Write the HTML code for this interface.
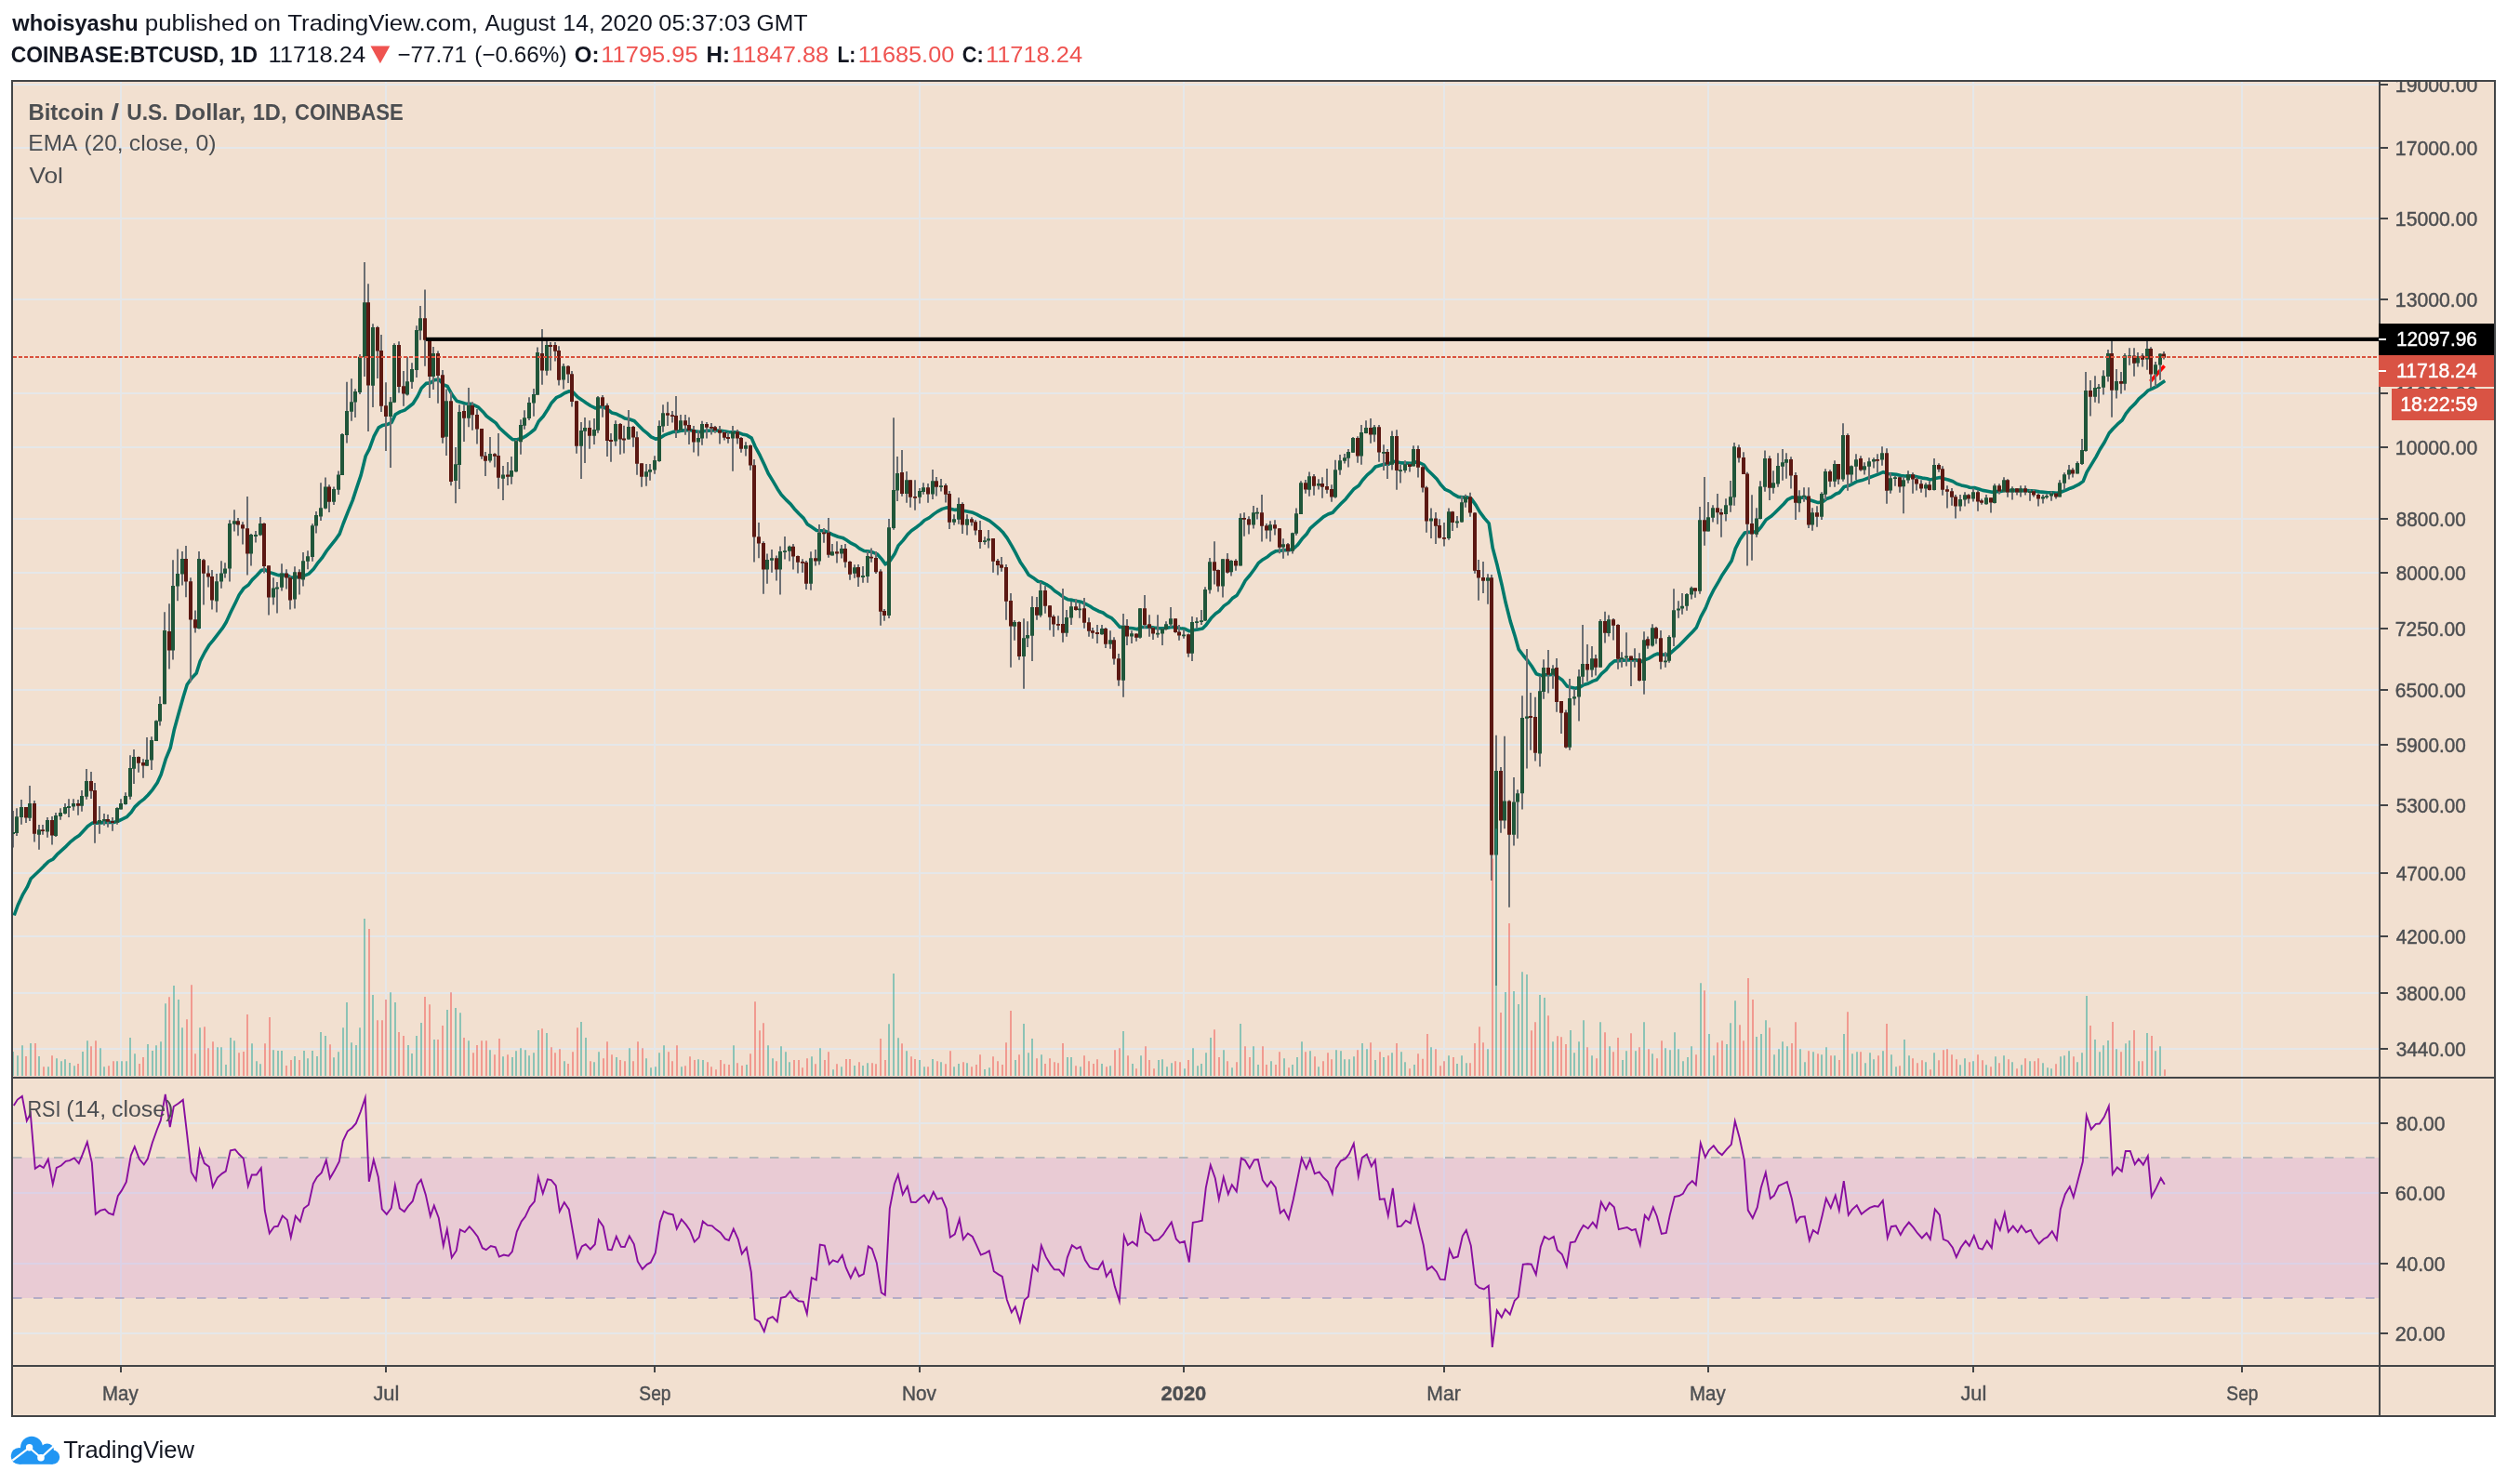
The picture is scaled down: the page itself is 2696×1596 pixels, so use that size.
<!DOCTYPE html>
<html><head><meta charset="utf-8"><title>BTCUSD chart</title>
<style>html,body{margin:0;padding:0;background:#fff;}body{width:2696px;height:1596px;position:relative;overflow:hidden;font-family:"Liberation Sans",sans-serif;}</style></head>
<body>
<svg width="2696" height="1596" viewBox="0 0 2696 1596" style="position:absolute;left:0;top:0">
<rect x="0" y="0" width="2696" height="1596" fill="#fff"/>
<rect x="13" y="87" width="2670" height="1436" fill="#f2e0d0"/>
<rect x="14" y="1245" width="2544" height="151" fill="#e9cbd4"/>
<rect x="14" y="90" width="2544" height="2" fill="#e5e7e9"/>
<rect x="14" y="158" width="2544" height="2" fill="#e5e7e9"/>
<rect x="14" y="234" width="2544" height="2" fill="#e5e7e9"/>
<rect x="14" y="321" width="2544" height="2" fill="#e5e7e9"/>
<rect x="14" y="422" width="2544" height="2" fill="#e5e7e9"/>
<rect x="14" y="480" width="2544" height="2" fill="#e5e7e9"/>
<rect x="14" y="557" width="2544" height="2" fill="#e5e7e9"/>
<rect x="14" y="615" width="2544" height="2" fill="#e5e7e9"/>
<rect x="14" y="675" width="2544" height="2" fill="#e5e7e9"/>
<rect x="14" y="741" width="2544" height="2" fill="#e5e7e9"/>
<rect x="14" y="800" width="2544" height="2" fill="#e5e7e9"/>
<rect x="14" y="865" width="2544" height="2" fill="#e5e7e9"/>
<rect x="14" y="938" width="2544" height="2" fill="#e5e7e9"/>
<rect x="14" y="1006" width="2544" height="2" fill="#e5e7e9"/>
<rect x="14" y="1067" width="2544" height="2" fill="#e5e7e9"/>
<rect x="14" y="1127" width="2544" height="2" fill="#e5e7e9"/>
<rect x="14" y="1207" width="2544" height="2" fill="#e5e7e9"/>
<rect x="14" y="1282" width="2544" height="2" fill="#dcd1e6"/>
<rect x="14" y="1358" width="2544" height="2" fill="#dcd1e6"/>
<rect x="14" y="1433" width="2544" height="2" fill="#e5e7e9"/>
<rect x="129" y="88" width="2" height="1070" fill="#e5e7e9"/>
<rect x="129" y="1160" width="2" height="308" fill="#e5e7e9"/>
<rect x="129" y="1246" width="2" height="150" fill="#dcd1e6"/>
<rect x="414" y="88" width="2" height="1070" fill="#e5e7e9"/>
<rect x="414" y="1160" width="2" height="308" fill="#e5e7e9"/>
<rect x="414" y="1246" width="2" height="150" fill="#dcd1e6"/>
<rect x="703" y="88" width="2" height="1070" fill="#e5e7e9"/>
<rect x="703" y="1160" width="2" height="308" fill="#e5e7e9"/>
<rect x="703" y="1246" width="2" height="150" fill="#dcd1e6"/>
<rect x="988" y="88" width="2" height="1070" fill="#e5e7e9"/>
<rect x="988" y="1160" width="2" height="308" fill="#e5e7e9"/>
<rect x="988" y="1246" width="2" height="150" fill="#dcd1e6"/>
<rect x="1272" y="88" width="2" height="1070" fill="#e5e7e9"/>
<rect x="1272" y="1160" width="2" height="308" fill="#e5e7e9"/>
<rect x="1272" y="1246" width="2" height="150" fill="#dcd1e6"/>
<rect x="1552" y="88" width="2" height="1070" fill="#e5e7e9"/>
<rect x="1552" y="1160" width="2" height="308" fill="#e5e7e9"/>
<rect x="1552" y="1246" width="2" height="150" fill="#dcd1e6"/>
<rect x="1836" y="88" width="2" height="1070" fill="#e5e7e9"/>
<rect x="1836" y="1160" width="2" height="308" fill="#e5e7e9"/>
<rect x="1836" y="1246" width="2" height="150" fill="#dcd1e6"/>
<rect x="2121" y="88" width="2" height="1070" fill="#e5e7e9"/>
<rect x="2121" y="1160" width="2" height="308" fill="#e5e7e9"/>
<rect x="2121" y="1246" width="2" height="150" fill="#dcd1e6"/>
<rect x="2410" y="88" width="2" height="1070" fill="#e5e7e9"/>
<rect x="2410" y="1160" width="2" height="308" fill="#e5e7e9"/>
<rect x="2410" y="1246" width="2" height="150" fill="#dcd1e6"/>
<line x1="14" y1="1245" x2="2558" y2="1245" stroke="#b4b8b8" stroke-width="2" stroke-dasharray="9.5 12.5"/>
<line x1="14" y1="1396" x2="2558" y2="1396" stroke="#b5acc6" stroke-width="2" stroke-dasharray="9.5 12.5"/>
<line x1="2312.4" y1="410.3" x2="2327.6" y2="393.5" stroke="#ff0000" stroke-width="3.6"/>
<polyline points="15.2,984.5 19.2,973.5 24.2,962.7 29.2,954.2 33.2,945.0 38.2,940.3 43.2,935.5 47.2,931.4 52.2,926.5 57.2,923.8 61.2,919.2 66.2,914.7 71.2,910.1 75.2,905.9 80.2,901.8 85.2,898.4 89.2,894.2 94.2,888.8 99.2,885.1 103.2,885.1 108.2,884.9 113.2,884.5 117.2,884.4 122.2,884.5 127.2,883.0 131.2,881.1 136.2,878.7 141.2,873.5 145.2,867.6 150.2,862.9 155.2,859.1 159.2,855.0 164.2,849.1 169.2,841.7 173.2,833.1 178.2,816.4 183.2,804.3 187.2,785.3 192.2,767.1 197.2,749.2 201.2,736.3 206.2,729.3 211.2,724.0 215.2,711.1 220.2,701.5 225.2,693.3 229.2,688.6 234.2,682.2 239.2,675.7 243.2,669.2 248.2,658.3 253.2,648.2 257.2,639.7 262.2,632.6 267.2,629.0 271.2,623.6 276.2,618.8 281.2,613.3 285.2,612.9 290.2,615.6 295.2,617.2 299.2,618.6 304.2,618.4 309.2,618.7 313.2,621.2 318.2,620.6 323.2,620.8 327.2,619.1 332.2,617.1 337.2,612.0 341.2,606.2 346.2,600.2 351.2,592.5 355.2,587.3 360.2,581.2 365.2,574.1 369.2,563.0 374.2,550.4 379.2,538.1 383.2,525.9 388.2,510.9 393.2,490.5 397.2,482.9 402.2,469.1 407.2,459.8 411.2,457.6 416.2,456.6 421.2,454.3 425.2,445.8 430.2,442.9 435.2,441.1 439.2,438.0 444.2,434.0 449.2,426.0 453.2,417.6 458.2,412.4 463.2,411.7 467.2,408.6 472.2,408.2 477.2,413.9 481.2,415.5 486.2,424.5 491.2,431.3 495.2,432.4 500.2,434.0 505.2,434.2 509.2,435.4 514.2,437.8 519.2,442.7 523.2,447.5 528.2,451.2 533.2,454.9 537.2,460.3 542.2,464.9 547.2,469.3 551.2,472.7 556.2,472.8 561.2,471.3 565.2,469.2 570.2,465.6 575.2,461.5 579.2,453.2 584.2,447.8 589.2,440.0 593.2,433.2 598.2,427.7 602.2,425.9 607.2,422.7 612.2,420.8 616.2,421.8 621.2,427.1 626.2,430.4 630.2,433.2 635.2,436.5 640.2,438.9 644.2,437.8 649.2,437.7 654.2,441.0 658.2,444.1 663.2,445.3 668.2,447.8 672.2,450.1 677.2,451.0 682.2,452.8 686.2,457.0 691.2,462.1 696.2,466.2 700.2,469.8 705.2,472.2 710.2,470.8 714.2,468.2 719.2,466.2 724.2,464.4 728.2,464.2 733.2,463.1 738.2,462.5 742.2,462.6 747.2,463.8 752.2,464.5 756.2,463.7 761.2,463.3 766.2,463.0 770.2,463.0 775.2,463.3 780.2,464.0 784.2,464.7 789.2,464.7 794.2,465.3 798.2,466.9 803.2,468.1 808.2,471.1 812.2,480.5 817.2,489.7 822.2,500.3 826.2,509.3 831.2,517.4 836.2,525.9 840.2,532.0 845.2,537.4 850.2,542.1 854.2,547.2 859.2,552.5 864.2,557.4 868.2,563.7 873.2,567.1 878.2,570.5 882.2,570.7 887.2,571.0 892.2,573.4 896.2,575.3 901.2,577.2 906.2,578.4 910.2,580.8 915.2,584.2 920.2,586.7 924.2,589.8 929.2,592.5 934.2,593.1 938.2,593.8 943.2,595.8 948.2,601.4 952.2,606.9 957.2,603.0 962.2,595.4 966.2,586.6 971.2,581.1 976.2,574.6 980.2,570.7 985.2,567.2 990.2,563.4 994.2,559.5 999.2,556.8 1004.2,552.9 1008.2,550.1 1013.2,547.4 1018.2,545.9 1022.2,547.3 1027.2,548.4 1032.2,547.8 1036.2,549.3 1041.2,550.2 1046.2,551.3 1050.2,553.1 1055.2,555.9 1060.2,558.2 1064.2,560.2 1069.2,564.2 1074.2,568.3 1078.2,572.2 1083.2,578.9 1088.2,587.3 1092.2,594.6 1097.2,604.4 1102.2,611.7 1106.2,618.2 1111.2,621.4 1116.2,625.2 1120.2,626.1 1125.2,628.5 1130.2,631.8 1134.2,635.5 1139.2,638.8 1144.2,642.7 1148.2,644.7 1153.2,645.4 1158.2,646.4 1162.2,647.2 1167.2,649.3 1172.2,652.0 1176.2,654.7 1181.2,657.2 1186.2,659.0 1190.2,662.1 1195.2,664.6 1199.2,668.6 1204.2,674.4 1209.2,674.2 1213.2,675.2 1218.2,675.8 1223.2,676.7 1227.2,674.5 1232.2,674.3 1237.2,674.4 1241.2,675.1 1246.2,675.6 1251.2,675.7 1255.2,675.3 1260.2,674.3 1265.2,674.8 1269.2,675.7 1274.2,676.3 1279.2,678.8 1283.2,677.8 1288.2,676.9 1293.2,676.0 1297.2,671.9 1302.2,665.1 1307.2,660.0 1311.2,657.2 1316.2,651.6 1321.2,648.1 1325.2,643.6 1330.2,640.2 1335.2,631.8 1339.2,624.4 1344.2,618.5 1349.2,611.7 1353.2,605.7 1358.2,601.7 1363.2,598.7 1367.2,595.3 1372.2,592.7 1377.2,592.3 1381.2,591.6 1386.2,591.7 1391.2,590.0 1395.2,586.3 1400.2,579.6 1405.2,574.3 1409.2,568.1 1414.2,563.7 1419.2,559.4 1423.2,555.9 1428.2,553.0 1433.2,551.2 1437.2,546.7 1442.2,541.6 1447.2,536.7 1451.2,531.7 1456.2,525.7 1461.2,522.2 1465.2,516.5 1470.2,510.9 1475.2,506.7 1479.2,502.0 1484.2,500.5 1489.2,499.1 1493.2,499.2 1498.2,496.2 1503.2,497.1 1507.2,497.9 1512.2,498.0 1517.2,498.4 1521.2,496.9 1526.2,497.5 1531.2,500.0 1535.2,505.5 1540.2,510.3 1545.2,515.3 1549.2,521.1 1554.2,526.4 1559.2,528.6 1563.2,531.7 1568.2,534.4 1573.2,534.9 1577.2,534.8 1582.2,536.4 1587.2,543.4 1591.2,550.4 1596.2,557.1 1601.2,562.9 1605.2,589.2 1610.2,608.3 1615.2,629.7 1619.2,648.3 1624.2,668.1 1629.2,684.2 1633.2,698.4 1638.2,705.0 1643.2,711.0 1647.2,716.5 1652.2,724.8 1657.2,726.5 1661.2,725.7 1666.2,725.7 1671.2,725.1 1675.2,727.9 1680.2,731.5 1685.2,738.0 1689.2,739.2 1694.2,740.2 1699.2,738.9 1703.2,736.5 1708.2,735.0 1713.2,732.4 1717.2,731.0 1722.2,724.7 1727.2,720.4 1731.2,715.0 1736.2,710.9 1741.2,710.7 1745.2,710.3 1750.2,709.9 1755.2,709.9 1759.2,709.7 1764.2,711.8 1769.2,709.5 1773.2,708.1 1778.2,704.9 1782.2,703.1 1787.2,703.9 1792.2,704.5 1796.2,702.6 1801.2,698.1 1806.2,693.8 1810.2,689.7 1815.2,684.6 1820.2,679.4 1824.2,675.1 1829.2,663.1 1834.2,653.8 1838.2,643.8 1843.2,633.8 1848.2,625.4 1852.2,618.2 1857.2,610.7 1862.2,603.0 1866.2,590.1 1871.2,580.1 1876.2,573.1 1880.2,572.2 1885.2,572.4 1890.2,571.0 1894.2,566.3 1899.2,558.9 1904.2,555.6 1908.2,552.0 1913.2,547.0 1918.2,542.0 1922.2,537.3 1927.2,534.8 1932.2,535.4 1936.2,535.2 1941.2,534.9 1946.2,537.7 1950.2,539.0 1955.2,540.6 1960.2,539.7 1964.2,536.5 1969.2,534.7 1974.2,531.2 1978.2,529.7 1983.2,523.5 1988.2,522.3 1992.2,520.3 1997.2,517.7 2002.2,516.6 2006.2,515.1 2011.2,513.3 2016.2,511.4 2020.2,509.8 2025.2,507.6 2030.2,509.5 2034.2,509.9 2039.2,510.3 2044.2,511.5 2048.2,512.0 2053.2,511.8 2058.2,512.1 2062.2,512.9 2067.2,514.1 2072.2,514.8 2076.2,515.9 2081.2,514.4 2086.2,513.5 2090.2,514.7 2095.2,516.0 2100.2,517.8 2104.2,520.3 2109.2,521.9 2114.2,522.9 2118.2,524.2 2123.2,524.6 2128.2,526.0 2132.2,527.4 2137.2,528.2 2142.2,529.3 2146.2,528.6 2151.2,528.6 2156.2,527.4 2160.2,527.6 2165.2,527.4 2170.2,527.6 2174.2,527.4 2179.2,527.6 2184.2,527.7 2188.2,528.1 2193.2,528.9 2198.2,529.4 2202.2,529.8 2207.2,529.8 2212.2,530.3 2216.2,529.2 2221.2,527.4 2226.2,525.2 2230.2,523.7 2235.2,521.2 2240.2,517.6 2244.2,507.6 2249.2,499.4 2254.2,491.1 2258.2,483.5 2263.2,475.5 2268.2,465.8 2272.2,461.2 2277.2,456.2 2282.2,451.9 2286.2,444.9 2291.2,438.7 2296.2,433.9 2300.2,428.9 2305.2,424.7 2310.2,419.8 2314.2,418.2 2319.2,415.7 2324.2,412.2 2328.2,409.5" fill="none" stroke="#00796b" stroke-width="3.6" stroke-linejoin="round" stroke-linecap="butt"/>
<path d="M13 872.0h2V911.6h-2zM17 869.2h2V898.9h-2zM22 860.1h2V886.8h-2zM27 868.0h2V884.9h-2zM31 844.9h2V882.9h-2zM36 861.0h2V905.6h-2zM41 887.0h2V913.7h-2zM45 887.0h2V897.7h-2zM50 879.1h2V900.7h-2zM55 878.0h2V908.6h-2zM59 874.0h2V899.9h-2zM64 869.2h2V881.7h-2zM69 864.0h2V875.8h-2zM73 859.2h2V878.9h-2zM78 859.2h2V871.8h-2zM83 860.1h2V876.8h-2zM87 850.1h2V872.8h-2zM92 827.1h2V859.8h-2zM97 830.0h2V858.9h-2zM101 842.1h2V906.8h-2zM106 867.1h2V896.7h-2zM111 875.0h2V887.7h-2zM115 876.1h2V889.8h-2zM120 879.1h2V893.8h-2zM125 868.3h2V886.8h-2zM129 859.2h2V870.4h-2zM134 852.2h2V865.5h-2zM139 812.2h2V859.8h-2zM143 806.1h2V842.9h-2zM148 813.4h2V830.7h-2zM153 816.2h2V836.8h-2zM157 793.0h2V823.7h-2zM162 792.2h2V827.9h-2zM167 774.6h2V797.0h-2zM171 749.1h2V780.6h-2zM176 658.2h2V757.2h-2zM181 649.3h2V719.4h-2zM185 602.3h2V709.5h-2zM190 590.4h2V646.3h-2zM195 593.1h2V629.4h-2zM199 587.1h2V642.3h-2zM204 621.2h2V733.5h-2zM209 656.4h2V680.5h-2zM213 593.1h2V676.4h-2zM218 601.1h2V650.5h-2zM223 608.2h2V631.5h-2zM227 613.1h2V655.6h-2zM232 617.1h2V658.6h-2zM237 603.3h2V632.7h-2zM241 605.2h2V621.5h-2zM246 559.3h2V625.5h-2zM251 548.2h2V571.4h-2zM255 557.0h2V576.3h-2zM260 561.2h2V585.5h-2zM265 534.1h2V618.6h-2zM269 574.1h2V608.5h-2zM274 571.1h2V583.4h-2zM279 556.0h2V576.3h-2zM283 562.2h2V616.4h-2zM288 608.2h2V661.6h-2zM293 621.2h2V650.5h-2zM297 626.0h2V659.6h-2zM302 606.3h2V635.6h-2zM307 612.2h2V633.4h-2zM311 619.3h2V655.6h-2zM316 609.2h2V654.6h-2zM321 612.2h2V639.6h-2zM325 594.1h2V630.4h-2zM330 592.2h2V612.2h-2zM335 563.3h2V603.8h-2zM339 550.1h2V573.4h-2zM344 519.3h2V560.1h-2zM349 513.4h2V547.6h-2zM353 521.2h2V550.9h-2zM358 523.6h2V543.1h-2zM363 506.6h2V532.0h-2zM367 466.1h2V510.9h-2zM372 410.8h2V476.6h-2zM377 407.2h2V452.8h-2zM381 418.2h2V448.9h-2zM386 381.0h2V424.1h-2zM391 282.1h2V404.9h-2zM395 305.2h2V463.9h-2zM400 348.2h2V438.1h-2zM405 350.7h2V406.9h-2zM409 359.9h2V443.0h-2zM414 411.2h2V485.1h-2zM419 427.0h2V503.0h-2zM423 369.3h2V433.2h-2zM428 367.2h2V422.5h-2zM433 399.0h2V436.8h-2zM437 383.8h2V425.4h-2zM442 390.2h2V418.0h-2zM447 350.2h2V405.9h-2zM451 329.0h2V365.8h-2zM456 311.6h2V393.8h-2zM461 365.2h2V428.0h-2zM465 373.0h2V419.0h-2zM470 377.5h2V433.8h-2zM475 398.1h2V476.8h-2zM479 418.6h2V489.9h-2zM484 421.5h2V522.2h-2zM489 481.1h2V541.2h-2zM493 435.2h2V526.1h-2zM498 435.2h2V474.9h-2zM503 417.1h2V459.3h-2zM507 432.2h2V462.7h-2zM512 440.1h2V477.4h-2zM517 461.1h2V493.7h-2zM521 486.0h2V512.0h-2zM526 470.0h2V497.6h-2zM531 487.2h2V502.6h-2zM535 466.0h2V525.7h-2zM540 501.1h2V537.9h-2zM545 497.1h2V521.9h-2zM549 490.9h2V520.8h-2zM554 473.0h2V507.8h-2zM559 451.2h2V488.7h-2zM563 441.2h2V461.8h-2zM568 427.2h2V451.9h-2zM573 418.1h2V447.8h-2zM577 373.4h2V424.8h-2zM582 354.1h2V413.7h-2zM587 363.0h2V403.7h-2zM591 367.9h2V398.6h-2zM596 367.9h2V388.6h-2zM600 372.3h2V414.6h-2zM605 391.1h2V418.6h-2zM610 393.1h2V411.9h-2zM614 399.0h2V437.5h-2zM619 431.2h2V487.8h-2zM624 454.1h2V514.9h-2zM628 449.0h2V497.9h-2zM633 452.2h2V482.8h-2zM638 450.1h2V477.9h-2zM642 426.0h2V465.7h-2zM647 424.9h2V448.7h-2zM652 433.8h2V490.9h-2zM656 466.0h2V496.7h-2zM661 452.2h2V479.8h-2zM666 454.9h2V488.7h-2zM670 457.8h2V487.5h-2zM675 441.1h2V472.7h-2zM680 458.1h2V480.8h-2zM684 464.1h2V510.8h-2zM689 498.2h2V523.8h-2zM694 499.1h2V522.8h-2zM698 499.1h2V516.7h-2zM703 490.2h2V509.7h-2zM708 452.2h2V496.7h-2zM712 435.2h2V464.8h-2zM717 432.2h2V458.1h-2zM722 442.0h2V454.6h-2zM726 426.0h2V470.9h-2zM731 446.0h2V463.5h-2zM736 446.0h2V467.8h-2zM740 448.8h2V477.9h-2zM745 458.0h2V486.5h-2zM750 463.4h2V490.5h-2zM754 452.8h2V478.7h-2zM759 454.0h2V471.4h-2zM764 454.9h2V467.4h-2zM768 458.0h2V465.8h-2zM773 458.0h2V477.6h-2zM778 463.4h2V473.5h-2zM782 465.0h2V476.8h-2zM787 458.0h2V506.7h-2zM792 462.1h2V477.6h-2zM796 470.1h2V486.8h-2zM801 475.2h2V490.5h-2zM806 478.2h2V505.7h-2zM810 494.1h2V604.5h-2zM815 562.0h2V600.3h-2zM820 582.2h2V638.8h-2zM824 595.4h2V627.8h-2zM829 591.1h2V615.7h-2zM834 597.6h2V624.6h-2zM838 587.4h2V639.6h-2zM843 577.0h2V601.6h-2zM848 586.7h2V603.5h-2zM852 585.1h2V612.4h-2zM857 597.6h2V616.5h-2zM862 601.3h2V615.7h-2zM866 602.9h2V633.9h-2zM871 593.2h2V634.7h-2zM876 591.1h2V608.5h-2zM880 564.1h2V607.6h-2zM885 568.1h2V583.8h-2zM890 557.1h2V599.7h-2zM894 585.1h2V597.6h-2zM899 582.2h2V605.6h-2zM904 585.9h2V600.5h-2zM908 585.1h2V610.5h-2zM913 603.2h2V623.7h-2zM918 607.3h2V621.8h-2zM922 607.1h2V630.9h-2zM927 609.0h2V626.7h-2zM932 593.0h2V626.7h-2zM936 589.6h2V604.8h-2zM941 593.0h2V616.9h-2zM946 612.2h2V672.8h-2zM950 655.1h2V667.8h-2zM955 557.9h2V664.9h-2zM960 449.3h2V569.7h-2zM964 491.0h2V538.9h-2zM969 484.1h2V533.8h-2zM974 507.0h2V540.7h-2zM978 516.3h2V545.8h-2zM983 516.3h2V548.7h-2zM988 525.1h2V541.6h-2zM992 519.2h2V531.8h-2zM997 520.0h2V540.7h-2zM1002 504.9h2V536.9h-2zM1006 512.9h2V533.5h-2zM1011 515.0h2V528.4h-2zM1016 520.0h2V540.6h-2zM1020 528.1h2V568.9h-2zM1025 553.2h2V564.7h-2zM1030 535.2h2V563.8h-2zM1034 540.2h2V573.9h-2zM1039 553.2h2V575.6h-2zM1044 556.2h2V565.5h-2zM1048 559.3h2V575.6h-2zM1053 560.1h2V589.9h-2zM1058 577.3h2V585.7h-2zM1062 570.1h2V589.6h-2zM1067 579.0h2V615.7h-2zM1072 600.9h2V618.6h-2zM1076 598.9h2V614.7h-2zM1081 607.0h2V666.8h-2zM1086 638.1h2V717.7h-2zM1090 667.0h2V688.8h-2zM1095 668.2h2V709.8h-2zM1100 665.2h2V740.7h-2zM1104 668.2h2V695.9h-2zM1109 641.2h2V710.9h-2zM1114 642.1h2V666.8h-2zM1118 626.1h2V663.7h-2zM1123 630.0h2V659.7h-2zM1128 651.0h2V677.7h-2zM1132 661.2h2V684.8h-2zM1137 662.2h2V677.7h-2zM1142 633.1h2V690.7h-2zM1146 656.1h2V684.8h-2zM1151 647.0h2V671.9h-2zM1156 644.2h2V656.7h-2zM1160 649.1h2V664.8h-2zM1165 643.0h2V675.7h-2zM1170 664.2h2V684.8h-2zM1174 675.1h2V686.8h-2zM1179 672.1h2V691.9h-2zM1184 672.1h2V682.8h-2zM1188 675.1h2V697.0h-2zM1193 678.2h2V697.7h-2zM1197 685.2h2V714.7h-2zM1202 703.0h2V737.7h-2zM1207 660.0h2V749.8h-2zM1211 666.0h2V693.9h-2zM1216 678.2h2V691.9h-2zM1221 681.2h2V689.8h-2zM1225 654.0h2V686.8h-2zM1230 640.0h2V675.7h-2zM1235 661.2h2V684.8h-2zM1239 674.6h2V687.9h-2zM1244 661.2h2V685.8h-2zM1249 675.7h2V693.9h-2zM1253 668.2h2V677.7h-2zM1258 653.1h2V674.6h-2zM1263 665.2h2V680.7h-2zM1267 672.1h2V688.8h-2zM1272 677.1h2V686.8h-2zM1277 681.6h2V706.8h-2zM1281 663.1h2V710.9h-2zM1286 664.0h2V675.7h-2zM1291 656.1h2V671.9h-2zM1295 631.3h2V667.9h-2zM1300 600.0h2V638.6h-2zM1305 582.2h2V628.6h-2zM1309 612.6h2V636.5h-2zM1314 601.2h2V642.4h-2zM1319 595.0h2V616.8h-2zM1323 602.3h2V619.4h-2zM1328 601.2h2V613.8h-2zM1333 552.3h2V608.6h-2zM1337 551.3h2V576.8h-2zM1342 555.3h2V574.5h-2zM1347 544.1h2V568.6h-2zM1351 546.1h2V558.5h-2zM1356 532.0h2V582.4h-2zM1361 563.0h2V579.4h-2zM1365 560.2h2V582.4h-2zM1370 559.3h2V575.6h-2zM1375 567.9h2V595.3h-2zM1379 579.3h2V600.8h-2zM1384 583.9h2V597.5h-2zM1389 572.8h2V595.6h-2zM1393 546.4h2V575.7h-2zM1398 517.2h2V553.0h-2zM1403 516.0h2V530.8h-2zM1407 507.4h2V533.8h-2zM1412 510.0h2V532.7h-2zM1417 515.2h2V526.4h-2zM1421 513.3h2V535.7h-2zM1426 504.1h2V530.8h-2zM1431 521.2h2V539.7h-2zM1435 494.8h2V535.7h-2zM1440 489.0h2V510.8h-2zM1445 488.1h2V498.5h-2zM1449 483.1h2V502.6h-2zM1454 470.0h2V487.1h-2zM1459 469.3h2V497.7h-2zM1463 457.1h2V499.7h-2zM1468 452.2h2V466.3h-2zM1473 450.0h2V476.7h-2zM1477 457.1h2V475.2h-2zM1482 457.1h2V496.7h-2zM1487 478.2h2V505.9h-2zM1491 482.9h2V514.9h-2zM1496 463.4h2V505.6h-2zM1501 462.2h2V526.8h-2zM1505 499.7h2V519.4h-2zM1510 495.2h2V508.6h-2zM1515 498.6h2V507.5h-2zM1519 479.2h2V501.6h-2zM1524 479.2h2V513.5h-2zM1529 500.4h2V529.6h-2zM1533 522.8h2V572.8h-2zM1538 546.4h2V578.9h-2zM1543 551.1h2V585.1h-2zM1547 558.3h2V578.9h-2zM1552 561.9h2V587.5h-2zM1557 546.4h2V580.8h-2zM1561 549.8h2V570.9h-2zM1566 554.9h2V567.7h-2zM1571 533.6h2V561.9h-2zM1575 531.7h2V545.8h-2zM1580 529.8h2V555.8h-2zM1585 551.1h2V616.8h-2zM1589 602.1h2V645.8h-2zM1594 604.0h2V637.9h-2zM1599 617.2h2V649.8h-2zM1603 618.1h2V946.9h-2zM1608 790.8h2V1060.0h-2zM1613 825.0h2V895.7h-2zM1617 791.8h2V891.3h-2zM1622 860.4h2V975.8h-2zM1627 836.1h2V909.5h-2zM1631 849.2h2V901.8h-2zM1636 748.3h2V870.5h-2zM1641 697.9h2V826.6h-2zM1645 745.1h2V806.8h-2zM1650 749.8h2V818.5h-2zM1655 727.0h2V824.6h-2zM1659 709.2h2V751.7h-2zM1664 698.9h2V745.5h-2zM1669 715.3h2V740.8h-2zM1673 708.1h2V765.8h-2zM1678 754.0h2V788.9h-2zM1683 763.4h2V804.8h-2zM1687 730.0h2V806.8h-2zM1692 741.1h2V758.6h-2zM1697 720.1h2V775.6h-2zM1701 671.9h2V736.3h-2zM1706 693.1h2V732.7h-2zM1711 695.0h2V728.2h-2zM1715 703.9h2V726.6h-2zM1720 665.9h2V717.7h-2zM1725 657.8h2V691.5h-2zM1729 661.4h2V684.5h-2zM1734 665.1h2V688.6h-2zM1739 671.3h2V719.8h-2zM1743 701.2h2V717.7h-2zM1748 680.2h2V716.6h-2zM1753 705.6h2V737.9h-2zM1757 697.2h2V717.7h-2zM1762 702.3h2V732.7h-2zM1767 679.2h2V746.8h-2zM1771 684.5h2V697.8h-2zM1776 671.3h2V695.5h-2zM1780 674.0h2V692.6h-2zM1785 678.1h2V719.8h-2zM1790 701.2h2V717.7h-2zM1794 683.2h2V712.8h-2zM1799 633.3h2V695.0h-2zM1804 646.2h2V664.8h-2zM1808 638.1h2V660.8h-2zM1813 638.1h2V656.7h-2zM1818 630.8h2V644.6h-2zM1822 632.3h2V642.8h-2zM1827 545.0h2V638.8h-2zM1832 512.9h2V586.8h-2zM1836 540.1h2V571.4h-2zM1841 543.3h2V561.6h-2zM1846 531.1h2V563.8h-2zM1850 547.1h2V577.8h-2zM1855 536.2h2V560.6h-2zM1860 517.0h2V550.7h-2zM1864 476.1h2V543.7h-2zM1869 478.3h2V497.6h-2zM1874 486.3h2V510.0h-2zM1878 507.8h2V608.6h-2zM1883 532.2h2V602.8h-2zM1888 546.2h2V577.8h-2zM1892 517.3h2V558.6h-2zM1897 484.4h2V528.8h-2zM1902 490.2h2V537.9h-2zM1906 506.2h2V530.7h-2zM1911 487.2h2V523.8h-2zM1916 482.9h2V516.8h-2zM1920 487.2h2V514.7h-2zM1925 491.2h2V525.6h-2zM1930 508.1h2V558.9h-2zM1934 527.3h2V550.7h-2zM1939 524.3h2V539.7h-2zM1944 524.3h2V567.9h-2zM1948 546.2h2V570.8h-2zM1953 544.3h2V566.7h-2zM1958 529.2h2V558.9h-2zM1962 504.2h2V537.9h-2zM1967 505.3h2V523.8h-2zM1972 495.3h2V523.8h-2zM1976 499.1h2V520.9h-2zM1981 455.2h2V517.7h-2zM1986 466.2h2V527.7h-2zM1990 500.4h2V519.6h-2zM1995 488.2h2V516.0h-2zM2000 490.2h2V506.8h-2zM2004 497.2h2V510.6h-2zM2009 492.3h2V520.9h-2zM2014 492.3h2V503.6h-2zM2018 488.2h2V508.7h-2zM2023 480.2h2V500.7h-2zM2028 482.2h2V541.8h-2zM2032 508.5h2V530.7h-2zM2037 511.7h2V522.8h-2zM2042 512.8h2V529.7h-2zM2046 512.4h2V552.3h-2zM2051 506.3h2V519.7h-2zM2056 508.3h2V530.7h-2zM2060 513.3h2V527.6h-2zM2065 516.3h2V529.7h-2zM2070 519.2h2V534.8h-2zM2074 517.2h2V527.6h-2zM2079 493.1h2V527.6h-2zM2084 498.2h2V507.7h-2zM2088 501.2h2V532.8h-2zM2093 522.2h2V546.6h-2zM2098 525.1h2V543.7h-2zM2102 532.1h2V557.6h-2zM2107 532.1h2V549.7h-2zM2112 529.2h2V544.6h-2zM2116 531.3h2V541.6h-2zM2121 525.3h2V539.6h-2zM2126 527.3h2V549.7h-2zM2130 536.4h2V542.7h-2zM2135 532.1h2V542.7h-2zM2140 535.2h2V551.6h-2zM2144 520.3h2V541.6h-2zM2149 520.3h2V531.5h-2zM2154 513.3h2V529.5h-2zM2158 515.3h2V534.8h-2zM2163 523.2h2V537.6h-2zM2168 525.1h2V532.6h-2zM2172 522.2h2V534.6h-2zM2177 522.2h2V532.6h-2zM2182 526.4h2V538.7h-2zM2186 526.4h2V534.6h-2zM2191 530.4h2V544.6h-2zM2196 532.1h2V541.6h-2zM2200 531.3h2V536.5h-2zM2205 528.5h2V538.7h-2zM2210 530.2h2V536.5h-2zM2214 516.2h2V534.6h-2zM2219 508.3h2V526.4h-2zM2224 500.1h2V515.5h-2zM2228 503.2h2V513.5h-2zM2233 496.2h2V509.6h-2zM2238 472.1h2V500.0h-2zM2242 400.1h2V485.8h-2zM2247 409.0h2V447.6h-2zM2252 404.2h2V432.7h-2zM2256 413.1h2V433.8h-2zM2261 398.2h2V424.6h-2zM2266 376.1h2V410.6h-2zM2270 363.2h2V448.7h-2zM2275 397.1h2V428.6h-2zM2280 400.1h2V423.6h-2zM2284 380.1h2V419.8h-2zM2289 374.2h2V392.8h-2zM2294 374.2h2V404.7h-2zM2298 379.0h2V394.4h-2zM2303 380.1h2V394.4h-2zM2308 366.2h2V397.7h-2zM2312 373.2h2V417.1h-2zM2317 389.1h2V415.8h-2zM2322 380.1h2V408.8h-2zM2326 378.1h2V386.6h-2z" fill="#6b6e72"/>
<path d="M12 895.0h4v2.0h-4zM16 878.3h4v17.6h-4zM21 868.0h4v10.9h-4zM30 864.0h4v15.8h-4zM40 892.2h4v5.5h-4zM49 881.9h4v12.7h-4zM58 877.1h4v21.8h-4zM63 874.0h4v3.9h-4zM68 868.0h4v7.0h-4zM72 867.1h4v1.8h-4zM77 864.0h4v3.6h-4zM86 856.1h4v10.7h-4zM91 840.1h4v16.7h-4zM105 882.1h4v3.6h-4zM110 881.1h4v2.1h-4zM124 868.9h4v15.8h-4zM128 864.0h4v6.4h-4zM133 856.1h4v8.9h-4zM138 826.1h4v30.7h-4zM142 814.0h4v12.7h-4zM156 817.0h4v6.7h-4zM161 796.0h4v21.6h-4zM166 775.2h4v21.8h-4zM170 757.0h4v18.8h-4zM175 677.9h4v79.3h-4zM184 630.0h4v69.4h-4zM189 617.1h4v13.3h-4zM194 601.1h4v16.5h-4zM212 601.1h4v74.9h-4zM231 625.2h4v21.2h-4zM236 616.4h4v9.2h-4zM240 611.5h4v5.2h-4zM245 563.0h4v48.6h-4zM250 560.3h4v3.4h-4zM268 575.1h4v20.5h-4zM273 575.1h4v1.8h-4zM278 563.0h4v12.6h-4zM292 632.4h4v10.2h-4zM296 631.6h4v1.8h-4zM301 616.4h4v15.3h-4zM315 615.3h4v29.2h-4zM324 603.3h4v20.2h-4zM329 598.3h4v5.5h-4zM334 565.2h4v33.7h-4zM338 554.1h4v11.4h-4zM343 546.2h4v9.2h-4zM348 523.6h4v23.1h-4zM357 526.1h4v13.7h-4zM362 510.5h4v16.2h-4zM366 467.1h4v43.8h-4zM371 442.0h4v26.0h-4zM376 432.3h4v10.4h-4zM380 420.9h4v11.7h-4zM385 383.8h4v38.3h-4zM390 325.3h4v59.0h-4zM399 352.1h4v62.6h-4zM418 432.3h4v15.6h-4zM422 371.1h4v61.6h-4zM436 410.2h4v14.3h-4zM441 397.1h4v13.7h-4zM446 355.0h4v43.0h-4zM450 342.3h4v13.3h-4zM464 380.1h4v24.8h-4zM478 431.3h4v38.5h-4zM488 499.3h4v17.6h-4zM492 443.0h4v57.1h-4zM502 436.1h4v13.6h-4zM525 487.9h4v7.7h-4zM539 510.5h4v4.2h-4zM548 506.0h4v6.7h-4zM553 474.2h4v33.1h-4zM558 457.1h4v18.2h-4zM562 449.2h4v8.6h-4zM567 433.1h4v16.9h-4zM572 424.0h4v9.6h-4zM576 379.0h4v45.8h-4zM586 371.1h4v27.7h-4zM604 393.8h4v14.8h-4zM623 463.0h4v16.8h-4zM627 460.1h4v3.7h-4zM637 462.0h4v6.7h-4zM641 427.2h4v35.6h-4zM660 456.1h4v18.5h-4zM674 459.0h4v13.6h-4zM693 507.2h4v5.5h-4zM697 505.0h4v2.8h-4zM702 494.9h4v10.7h-4zM707 458.1h4v37.8h-4zM711 444.2h4v14.4h-4zM730 452.2h4v10.5h-4zM749 471.1h4v4.4h-4zM753 456.1h4v15.4h-4zM786 464.2h4v7.3h-4zM800 479.0h4v3.7h-4zM823 602.1h4v10.5h-4zM828 600.3h4v2.4h-4zM837 593.0h4v19.6h-4zM842 592.2h4v1.8h-4zM847 587.8h4v4.9h-4zM870 600.3h4v27.5h-4zM879 572.8h4v30.7h-4zM893 593.2h4v4.4h-4zM903 590.0h4v5.5h-4zM917 610.2h4v6.5h-4zM926 619.1h4v1.8h-4zM931 598.0h4v21.9h-4zM954 567.2h4v94.7h-4zM959 527.1h4v40.9h-4zM963 509.1h4v18.5h-4zM973 516.3h4v14.7h-4zM987 528.1h4v6.6h-4zM991 524.2h4v4.7h-4zM1001 517.2h4v14.3h-4zM1010 522.2h4v1.8h-4zM1024 558.3h4v3.4h-4zM1029 541.9h4v16.8h-4zM1038 558.3h4v6.4h-4zM1057 581.2h4v1.8h-4zM1061 579.3h4v2.2h-4zM1089 669.1h4v4.6h-4zM1099 686.2h4v19.9h-4zM1103 683.1h4v3.5h-4zM1108 653.1h4v30.7h-4zM1117 635.1h4v26.7h-4zM1145 664.0h4v16.7h-4zM1150 652.2h4v12.4h-4zM1159 654.5h4v1.8h-4zM1183 676.1h4v6.1h-4zM1192 688.2h4v4.5h-4zM1206 673.1h4v58.6h-4zM1215 681.2h4v3.4h-4zM1224 654.3h4v31.5h-4zM1243 680.7h4v1.8h-4zM1248 676.3h4v5.2h-4zM1252 671.3h4v5.5h-4zM1257 665.2h4v6.3h-4zM1271 682.4h4v1.8h-4zM1280 669.1h4v33.7h-4zM1285 668.2h4v1.8h-4zM1290 667.2h4v1.8h-4zM1294 634.1h4v33.4h-4zM1299 604.2h4v30.4h-4zM1313 601.2h4v29.4h-4zM1322 603.0h4v12.3h-4zM1332 557.0h4v51.6h-4zM1346 551.3h4v13.3h-4zM1350 550.8h4v1.8h-4zM1364 564.2h4v6.4h-4zM1378 585.2h4v3.4h-4zM1388 573.3h4v19.4h-4zM1392 552.3h4v21.5h-4zM1397 519.2h4v33.8h-4zM1406 512.3h4v14.4h-4zM1416 520.1h4v2.5h-4zM1434 505.2h4v29.6h-4zM1439 495.2h4v10.4h-4zM1444 492.3h4v3.4h-4zM1448 485.9h4v6.8h-4zM1453 471.1h4v15.7h-4zM1462 465.1h4v25.3h-4zM1467 460.1h4v5.9h-4zM1476 459.2h4v8.3h-4zM1486 486.0h4v1.8h-4zM1495 469.0h4v30.7h-4zM1504 505.3h4v1.8h-4zM1509 499.2h4v6.7h-4zM1518 483.1h4v18.5h-4zM1537 557.4h4v3.2h-4zM1556 550.2h4v28.9h-4zM1565 560.6h4v1.8h-4zM1570 540.2h4v21.3h-4zM1574 534.2h4v6.2h-4zM1598 621.3h4v3.4h-4zM1607 829.0h4v90.6h-4zM1616 861.4h4v21.2h-4zM1626 862.4h4v35.4h-4zM1630 853.3h4v9.1h-4zM1635 771.9h4v81.4h-4zM1640 770.4h4v2.4h-4zM1654 743.2h4v67.2h-4zM1658 718.1h4v25.9h-4zM1668 719.1h4v6.6h-4zM1686 751.1h4v52.7h-4zM1691 749.2h4v2.4h-4zM1696 727.4h4v22.2h-4zM1700 714.1h4v13.6h-4zM1710 708.3h4v12.3h-4zM1719 668.0h4v49.7h-4zM1728 666.3h4v14.6h-4zM1742 707.2h4v1.8h-4zM1747 705.6h4v1.9h-4zM1756 708.3h4v1.8h-4zM1766 688.3h4v43.7h-4zM1775 675.2h4v19.4h-4zM1789 710.4h4v1.8h-4zM1793 684.9h4v25.9h-4zM1798 656.2h4v29.4h-4zM1803 654.6h4v1.9h-4zM1807 651.7h4v2.9h-4zM1812 638.9h4v12.8h-4zM1817 632.3h4v7.3h-4zM1826 559.3h4v76.4h-4zM1835 556.3h4v15.1h-4zM1840 546.2h4v10.5h-4zM1854 543.3h4v9.6h-4zM1859 534.3h4v9.3h-4zM1863 480.2h4v54.5h-4zM1887 557.4h4v17.3h-4zM1891 523.2h4v34.8h-4zM1896 493.1h4v30.7h-4zM1905 519.2h4v5.5h-4zM1910 501.0h4v19.6h-4zM1915 497.2h4v4.5h-4zM1919 494.0h4v3.8h-4zM1933 533.4h4v7.9h-4zM1938 532.8h4v1.8h-4zM1947 551.2h4v13.4h-4zM1957 531.1h4v24.7h-4zM1961 507.1h4v24.7h-4zM1971 499.1h4v18.6h-4zM1980 468.0h4v47.5h-4zM1989 501.3h4v9.3h-4zM1994 494.3h4v7.4h-4zM2003 501.3h4v4.2h-4zM2008 496.3h4v5.4h-4zM2013 494.0h4v2.6h-4zM2022 487.2h4v7.4h-4zM2031 514.2h4v13.4h-4zM2036 513.2h4v1.8h-4zM2045 516.3h4v7.0h-4zM2050 510.2h4v6.3h-4zM2069 521.2h4v4.4h-4zM2078 500.1h4v26.8h-4zM2106 537.1h4v7.5h-4zM2111 532.3h4v5.3h-4zM2120 529.2h4v7.3h-4zM2134 535.2h4v7.0h-4zM2143 522.2h4v18.7h-4zM2153 516.2h4v12.6h-4zM2162 525.3h4v4.2h-4zM2171 525.3h4v4.2h-4zM2181 528.2h4v1.8h-4zM2195 534.2h4v2.4h-4zM2199 533.2h4v1.8h-4zM2204 530.4h4v3.2h-4zM2213 519.2h4v15.4h-4zM2218 510.2h4v9.5h-4zM2223 505.2h4v5.3h-4zM2232 498.1h4v11.5h-4zM2237 483.9h4v15.1h-4zM2241 420.0h4v65.0h-4zM2251 417.1h4v9.7h-4zM2255 416.3h4v1.8h-4zM2260 404.2h4v12.6h-4zM2265 380.1h4v24.8h-4zM2274 410.1h4v9.7h-4zM2283 382.3h4v30.5h-4zM2288 382.3h4v1.8h-4zM2297 383.1h4v7.5h-4zM2307 375.0h4v11.6h-4zM2316 392.3h4v10.2h-4zM2321 380.4h4v12.2h-4z" fill="#20563a"/>
<path d="M26 868.0h4v11.5h-4zM35 864.0h4v32.7h-4zM44 892.2h4v1.8h-4zM54 881.9h4v16.7h-4zM82 864.0h4v2.8h-4zM96 840.1h4v10.6h-4zM100 850.1h4v35.7h-4zM114 881.1h4v2.7h-4zM119 883.1h4v1.8h-4zM147 814.0h4v6.7h-4zM152 820.0h4v3.6h-4zM180 679.1h4v20.3h-4zM198 601.1h4v24.5h-4zM203 625.2h4v41.2h-4zM208 666.3h4v9.3h-4zM217 602.3h4v14.4h-4zM222 616.4h4v4.2h-4zM226 620.1h4v25.5h-4zM254 560.3h4v4.2h-4zM259 564.2h4v4.4h-4zM264 568.2h4v27.4h-4zM282 563.0h4v46.0h-4zM287 608.2h4v34.4h-4zM306 616.4h4v5.2h-4zM310 621.2h4v24.3h-4zM320 615.3h4v7.3h-4zM352 523.6h4v16.2h-4zM394 325.3h4v89.3h-4zM404 352.1h4v25.4h-4zM408 377.1h4v59.6h-4zM413 436.2h4v11.7h-4zM427 371.1h4v45.0h-4zM432 415.3h4v8.2h-4zM455 342.3h4v23.5h-4zM460 365.2h4v39.7h-4zM469 380.1h4v23.9h-4zM474 403.3h4v67.4h-4zM483 431.3h4v86.6h-4zM497 442.0h4v7.8h-4zM506 436.1h4v10.2h-4zM511 446.0h4v15.6h-4zM516 461.1h4v29.6h-4zM520 490.2h4v5.5h-4zM530 488.2h4v2.5h-4zM534 490.0h4v23.7h-4zM544 510.5h4v2.2h-4zM581 380.0h4v18.5h-4zM590 371.1h4v1.8h-4zM595 371.1h4v6.7h-4zM599 377.1h4v31.6h-4zM609 393.8h4v8.7h-4zM613 402.3h4v29.6h-4zM618 431.2h4v48.6h-4zM632 460.1h4v8.6h-4zM646 427.2h4v9.5h-4zM651 436.1h4v37.8h-4zM655 473.1h4v1.8h-4zM665 456.1h4v16.3h-4zM669 471.6h4v1.8h-4zM679 459.0h4v11.4h-4zM683 470.2h4v28.5h-4zM688 498.2h4v14.5h-4zM716 444.2h4v2.5h-4zM721 446.3h4v1.8h-4zM725 447.0h4v15.7h-4zM735 452.2h4v5.3h-4zM739 456.9h4v6.1h-4zM744 462.1h4v13.4h-4zM758 456.1h4v3.6h-4zM763 459.0h4v1.8h-4zM767 459.3h4v3.7h-4zM772 462.5h4v3.2h-4zM777 465.0h4v5.7h-4zM781 470.1h4v1.8h-4zM791 464.2h4v7.3h-4zM795 471.0h4v11.8h-4zM805 479.0h4v21.5h-4zM809 500.2h4v77.4h-4zM814 577.3h4v7.3h-4zM819 584.1h4v28.5h-4zM833 600.3h4v12.3h-4zM851 587.8h4v10.8h-4zM856 598.0h4v6.8h-4zM861 604.0h4v1.8h-4zM865 604.8h4v23.0h-4zM875 600.3h4v3.2h-4zM884 572.5h4v1.8h-4zM889 572.8h4v23.9h-4zM898 593.2h4v2.3h-4zM907 590.0h4v14.6h-4zM912 604.0h4v13.7h-4zM921 610.1h4v10.6h-4zM935 598.7h4v1.9h-4zM940 600.0h4v15.2h-4zM945 614.4h4v43.3h-4zM949 657.0h4v4.9h-4zM968 507.9h4v23.1h-4zM977 516.3h4v18.4h-4zM982 534.0h4v1.8h-4zM996 524.2h4v7.2h-4zM1005 517.2h4v6.6h-4zM1015 522.0h4v9.8h-4zM1019 531.0h4v30.7h-4zM1033 541.9h4v22.7h-4zM1043 558.3h4v3.5h-4zM1047 561.3h4v9.3h-4zM1052 570.1h4v12.8h-4zM1066 579.0h4v24.8h-4zM1071 603.1h4v4.9h-4zM1075 607.3h4v3.4h-4zM1080 610.0h4v36.7h-4zM1085 646.0h4v27.6h-4zM1094 669.1h4v37.0h-4zM1113 653.1h4v8.7h-4zM1122 635.1h4v16.7h-4zM1127 651.2h4v12.5h-4zM1131 663.1h4v8.5h-4zM1136 671.0h4v1.8h-4zM1141 671.0h4v9.7h-4zM1155 652.2h4v3.9h-4zM1164 654.3h4v15.5h-4zM1169 669.2h4v9.6h-4zM1173 678.2h4v2.5h-4zM1178 680.1h4v1.8h-4zM1187 676.1h4v16.6h-4zM1196 688.2h4v20.4h-4zM1201 708.2h4v23.4h-4zM1210 673.1h4v11.5h-4zM1220 681.6h4v4.2h-4zM1229 654.3h4v17.6h-4zM1234 671.3h4v4.2h-4zM1238 675.3h4v6.3h-4zM1262 665.2h4v14.8h-4zM1266 679.4h4v4.2h-4zM1276 682.2h4v20.6h-4zM1304 604.2h4v9.6h-4zM1308 613.1h4v17.5h-4zM1318 601.2h4v14.5h-4zM1327 603.0h4v5.6h-4zM1336 557.0h4v1.8h-4zM1341 558.2h4v6.4h-4zM1355 551.3h4v14.4h-4zM1360 565.2h4v5.3h-4zM1369 564.2h4v4.4h-4zM1374 568.2h4v20.5h-4zM1383 585.2h4v7.6h-4zM1402 519.2h4v7.4h-4zM1411 512.3h4v10.4h-4zM1420 520.1h4v3.6h-4zM1425 523.1h4v3.6h-4zM1430 526.1h4v8.4h-4zM1458 471.1h4v19.4h-4zM1472 460.1h4v7.4h-4zM1481 459.2h4v27.4h-4zM1490 486.0h4v13.6h-4zM1500 469.0h4v36.9h-4zM1514 499.2h4v2.7h-4zM1523 483.1h4v19.6h-4zM1528 502.2h4v22.4h-4zM1532 524.2h4v36.4h-4zM1542 557.4h4v8.3h-4zM1546 564.9h4v13.6h-4zM1551 577.9h4v1.8h-4zM1560 550.2h4v11.7h-4zM1579 534.2h4v17.4h-4zM1584 551.5h4v62.3h-4zM1588 613.0h4v8.5h-4zM1593 620.9h4v3.8h-4zM1602 621.3h4v298.3h-4zM1612 829.0h4v53.6h-4zM1621 861.4h4v36.4h-4zM1644 770.0h4v1.9h-4zM1649 770.9h4v38.9h-4zM1663 718.1h4v7.6h-4zM1672 718.1h4v36.8h-4zM1677 754.0h4v12.8h-4zM1682 766.2h4v37.6h-4zM1705 714.1h4v6.5h-4zM1714 708.3h4v9.4h-4zM1724 668.0h4v12.8h-4zM1733 666.3h4v6.5h-4zM1738 671.9h4v36.9h-4zM1752 705.6h4v4.4h-4zM1761 708.3h4v23.6h-4zM1770 687.3h4v7.3h-4zM1779 675.2h4v11.5h-4zM1784 686.2h4v25.6h-4zM1821 632.3h4v3.4h-4zM1831 559.3h4v12.2h-4zM1845 546.2h4v5.1h-4zM1849 551.0h4v2.6h-4zM1868 481.2h4v11.3h-4zM1873 492.1h4v17.9h-4zM1877 509.4h4v54.4h-4zM1882 563.1h4v11.5h-4zM1901 493.1h4v31.6h-4zM1924 494.0h4v17.5h-4zM1929 511.0h4v29.7h-4zM1943 533.4h4v31.2h-4zM1952 551.2h4v4.6h-4zM1966 507.1h4v10.6h-4zM1975 499.1h4v16.4h-4zM1985 468.0h4v42.6h-4zM1999 493.1h4v12.4h-4zM2017 494.0h4v1.8h-4zM2027 487.2h4v40.5h-4zM2041 513.3h4v10.1h-4zM2055 510.2h4v5.3h-4zM2059 515.3h4v5.3h-4zM2064 520.3h4v5.3h-4zM2073 521.2h4v5.7h-4zM2083 500.1h4v4.6h-4zM2087 504.2h4v22.5h-4zM2092 526.3h4v2.4h-4zM2097 528.2h4v6.6h-4zM2101 534.3h4v10.3h-4zM2115 532.3h4v4.2h-4zM2125 529.2h4v10.4h-4zM2129 538.3h4v2.4h-4zM2139 535.2h4v5.3h-4zM2148 522.2h4v6.4h-4zM2157 516.2h4v13.3h-4zM2167 525.3h4v4.2h-4zM2176 525.3h4v4.2h-4zM2185 528.2h4v4.4h-4zM2190 532.1h4v4.4h-4zM2209 530.4h4v4.2h-4zM2227 505.2h4v4.4h-4zM2246 420.0h4v6.8h-4zM2269 380.1h4v39.7h-4zM2279 410.1h4v2.7h-4zM2293 382.6h4v8.1h-4zM2302 382.6h4v4.1h-4zM2311 375.0h4v27.5h-4zM2325 380.4h4v4.3h-4z" fill="#5c1812"/>
<path d="M13 1131.1h2V1157h-2zM18 1135.3h2V1157h-2zM23 1124.2h2V1157h-2zM32 1122.1h2V1157h-2zM41 1136.0h2V1157h-2zM51 1147.2h2V1157h-2zM60 1138.2h2V1157h-2zM65 1141.2h2V1157h-2zM69 1139.2h2V1157h-2zM74 1143.0h2V1157h-2zM79 1146.2h2V1157h-2zM88 1131.1h2V1157h-2zM93 1119.2h2V1157h-2zM107 1127.2h2V1157h-2zM111 1147.2h2V1157h-2zM125 1141.2h2V1157h-2zM130 1141.2h2V1157h-2zM135 1141.2h2V1157h-2zM139 1116.1h2V1157h-2zM144 1133.2h2V1157h-2zM158 1123.1h2V1157h-2zM163 1130.1h2V1157h-2zM167 1124.2h2V1157h-2zM172 1120.2h2V1157h-2zM177 1079.3h2V1157h-2zM186 1060.1h2V1157h-2zM191 1075.1h2V1157h-2zM195 1105.2h2V1157h-2zM214 1105.2h2V1157h-2zM233 1126.2h2V1157h-2zM237 1126.2h2V1157h-2zM242 1145.1h2V1157h-2zM247 1116.1h2V1157h-2zM251 1119.2h2V1157h-2zM270 1122.2h2V1157h-2zM275 1141.2h2V1157h-2zM279 1144.2h2V1157h-2zM293 1129.2h2V1157h-2zM298 1130.1h2V1157h-2zM302 1130.1h2V1157h-2zM316 1136.0h2V1157h-2zM326 1130.1h2V1157h-2zM330 1138.2h2V1157h-2zM335 1130.1h2V1157h-2zM340 1136.0h2V1157h-2zM344 1110.0h2V1157h-2zM349 1114.1h2V1157h-2zM358 1137.2h2V1157h-2zM363 1131.2h2V1157h-2zM368 1105.2h2V1157h-2zM372 1078.0h2V1157h-2zM377 1121.2h2V1157h-2zM382 1124.1h2V1157h-2zM386 1105.2h2V1157h-2zM391 988.1h2V1157h-2zM400 1070.1h2V1157h-2zM419 1067.2h2V1157h-2zM424 1078.0h2V1157h-2zM438 1124.1h2V1157h-2zM442 1133.1h2V1157h-2zM447 1114.1h2V1157h-2zM452 1100.1h2V1157h-2zM466 1118.1h2V1157h-2zM480 1086.1h2V1157h-2zM489 1084.1h2V1157h-2zM494 1089.2h2V1157h-2zM503 1119.3h2V1157h-2zM526 1129.3h2V1157h-2zM540 1136.2h2V1157h-2zM550 1137.1h2V1157h-2zM554 1130.2h2V1157h-2zM559 1127.2h2V1157h-2zM564 1129.3h2V1157h-2zM568 1135.3h2V1157h-2zM573 1132.3h2V1157h-2zM578 1108.1h2V1157h-2zM587 1111.1h2V1157h-2zM606 1141.2h2V1157h-2zM624 1099.1h2V1157h-2zM629 1116.1h2V1157h-2zM638 1142.2h2V1157h-2zM643 1131.2h2V1157h-2zM662 1137.1h2V1157h-2zM676 1127.2h2V1157h-2zM694 1138.2h2V1157h-2zM699 1148.2h2V1157h-2zM704 1147.2h2V1157h-2zM708 1132.3h2V1157h-2zM713 1124.2h2V1157h-2zM732 1147.2h2V1157h-2zM750 1139.2h2V1157h-2zM755 1140.1h2V1157h-2zM788 1124.3h2V1157h-2zM802 1145.1h2V1157h-2zM825 1124.3h2V1157h-2zM830 1138.3h2V1157h-2zM839 1125.2h2V1157h-2zM844 1131.2h2V1157h-2zM848 1142.2h2V1157h-2zM872 1136.2h2V1157h-2zM881 1127.3h2V1157h-2zM895 1150.3h2V1157h-2zM904 1147.2h2V1157h-2zM918 1146.1h2V1157h-2zM927 1146.1h2V1157h-2zM932 1143.2h2V1157h-2zM955 1101.2h2V1157h-2zM960 1047.1h2V1157h-2zM965 1116.3h2V1157h-2zM974 1130.3h2V1157h-2zM988 1140.1h2V1157h-2zM993 1147.2h2V1157h-2zM1002 1139.1h2V1157h-2zM1011 1142.2h2V1157h-2zM1025 1147.2h2V1157h-2zM1030 1144.1h2V1157h-2zM1039 1143.3h2V1157h-2zM1058 1150.1h2V1157h-2zM1063 1148.2h2V1157h-2zM1091 1140.1h2V1157h-2zM1100 1101.1h2V1157h-2zM1105 1132.3h2V1157h-2zM1109 1117.1h2V1157h-2zM1119 1134.2h2V1157h-2zM1147 1137.1h2V1157h-2zM1151 1137.1h2V1157h-2zM1161 1147.2h2V1157h-2zM1184 1144.1h2V1157h-2zM1193 1146.2h2V1157h-2zM1207 1109.1h2V1157h-2zM1217 1144.1h2V1157h-2zM1226 1135.3h2V1157h-2zM1245 1140.1h2V1157h-2zM1249 1139.2h2V1157h-2zM1254 1147.2h2V1157h-2zM1259 1143.3h2V1157h-2zM1273 1149.3h2V1157h-2zM1282 1127.2h2V1157h-2zM1287 1146.2h2V1157h-2zM1291 1144.1h2V1157h-2zM1296 1132.3h2V1157h-2zM1301 1116.1h2V1157h-2zM1315 1129.3h2V1157h-2zM1324 1148.2h2V1157h-2zM1333 1101.1h2V1157h-2zM1347 1125.2h2V1157h-2zM1352 1145.1h2V1157h-2zM1366 1141.2h2V1157h-2zM1380 1138.2h2V1157h-2zM1389 1145.1h2V1157h-2zM1394 1137.1h2V1157h-2zM1399 1120.2h2V1157h-2zM1408 1130.2h2V1157h-2zM1417 1147.2h2V1157h-2zM1436 1129.3h2V1157h-2zM1441 1130.2h2V1157h-2zM1445 1139.2h2V1157h-2zM1450 1139.2h2V1157h-2zM1455 1136.2h2V1157h-2zM1464 1122.1h2V1157h-2zM1469 1128.2h2V1157h-2zM1478 1140.1h2V1157h-2zM1487 1137.1h2V1157h-2zM1496 1132.3h2V1157h-2zM1506 1131.2h2V1157h-2zM1510 1142.2h2V1157h-2zM1520 1145.1h2V1157h-2zM1538 1126.2h2V1157h-2zM1557 1135.3h2V1157h-2zM1566 1144.1h2V1157h-2zM1571 1135.3h2V1157h-2zM1576 1143.3h2V1157h-2zM1599 1128.2h2V1157h-2zM1608 891.3h2V1157h-2zM1618 1067.1h2V1157h-2zM1627 1066.1h2V1157h-2zM1632 1080.1h2V1157h-2zM1636 1045.2h2V1157h-2zM1641 1048.1h2V1157h-2zM1655 1070.1h2V1157h-2zM1660 1073.1h2V1157h-2zM1669 1120.2h2V1157h-2zM1688 1108.1h2V1157h-2zM1692 1132.3h2V1157h-2zM1697 1120.2h2V1157h-2zM1702 1097.2h2V1157h-2zM1711 1135.3h2V1157h-2zM1720 1099.2h2V1157h-2zM1730 1125.2h2V1157h-2zM1744 1140.1h2V1157h-2zM1748 1130.2h2V1157h-2zM1758 1130.2h2V1157h-2zM1767 1099.2h2V1157h-2zM1776 1133.2h2V1157h-2zM1790 1127.2h2V1157h-2zM1795 1129.3h2V1157h-2zM1800 1110.2h2V1157h-2zM1804 1128.2h2V1157h-2zM1809 1141.2h2V1157h-2zM1814 1137.1h2V1157h-2zM1818 1125.2h2V1157h-2zM1828 1057.2h2V1157h-2zM1837 1112.1h2V1157h-2zM1842 1135.3h2V1157h-2zM1856 1123.1h2V1157h-2zM1860 1100.2h2V1157h-2zM1865 1076.2h2V1157h-2zM1888 1115.1h2V1157h-2zM1893 1112.1h2V1157h-2zM1898 1097.2h2V1157h-2zM1907 1134.2h2V1157h-2zM1912 1128.2h2V1157h-2zM1916 1120.2h2V1157h-2zM1921 1125.2h2V1157h-2zM1935 1128.2h2V1157h-2zM1940 1142.2h2V1157h-2zM1949 1131.2h2V1157h-2zM1958 1134.2h2V1157h-2zM1963 1126.2h2V1157h-2zM1972 1135.3h2V1157h-2zM1982 1112.1h2V1157h-2zM1991 1133.2h2V1157h-2zM1996 1131.2h2V1157h-2zM2005 1143.3h2V1157h-2zM2010 1132.3h2V1157h-2zM2014 1139.2h2V1157h-2zM2024 1130.2h2V1157h-2zM2033 1134.3h2V1157h-2zM2038 1147.2h2V1157h-2zM2047 1118.1h2V1157h-2zM2052 1135.3h2V1157h-2zM2070 1142.2h2V1157h-2zM2079 1132.2h2V1157h-2zM2107 1145.3h2V1157h-2zM2112 1138.2h2V1157h-2zM2121 1141.2h2V1157h-2zM2135 1145.3h2V1157h-2zM2145 1136.2h2V1157h-2zM2154 1135.3h2V1157h-2zM2163 1142.2h2V1157h-2zM2173 1145.3h2V1157h-2zM2182 1141.2h2V1157h-2zM2196 1143.2h2V1157h-2zM2201 1148.2h2V1157h-2zM2205 1149.2h2V1157h-2zM2215 1136.2h2V1157h-2zM2219 1135.3h2V1157h-2zM2224 1130.2h2V1157h-2zM2233 1142.2h2V1157h-2zM2238 1132.2h2V1157h-2zM2243 1071.1h2V1157h-2zM2252 1118.1h2V1157h-2zM2257 1131.2h2V1157h-2zM2261 1124.2h2V1157h-2zM2266 1119.1h2V1157h-2zM2275 1128.2h2V1157h-2zM2285 1122.2h2V1157h-2zM2289 1119.1h2V1157h-2zM2299 1141.2h2V1157h-2zM2308 1111.1h2V1157h-2zM2317 1130.2h2V1157h-2zM2322 1125.2h2V1157h-2z" fill="rgb(38,166,154)" fill-opacity="0.5"/>
<path d="M27 1136.0h2V1157h-2zM37 1122.1h2V1157h-2zM46 1147.2h2V1157h-2zM55 1135.3h2V1157h-2zM83 1144.1h2V1157h-2zM97 1125.2h2V1157h-2zM102 1119.2h2V1157h-2zM116 1146.2h2V1157h-2zM121 1141.2h2V1157h-2zM149 1144.1h2V1157h-2zM153 1137.1h2V1157h-2zM181 1072.2h2V1157h-2zM200 1096.2h2V1157h-2zM205 1059.2h2V1157h-2zM209 1133.2h2V1157h-2zM219 1104.2h2V1157h-2zM223 1127.2h2V1157h-2zM228 1120.2h2V1157h-2zM256 1132.2h2V1157h-2zM261 1131.1h2V1157h-2zM265 1091.1h2V1157h-2zM284 1122.2h2V1157h-2zM289 1094.0h2V1157h-2zM307 1146.1h2V1157h-2zM312 1140.1h2V1157h-2zM321 1140.1h2V1157h-2zM354 1123.2h2V1157h-2zM396 999.1h2V1157h-2zM405 1097.2h2V1157h-2zM410 1097.2h2V1157h-2zM414 1075.1h2V1157h-2zM428 1110.0h2V1157h-2zM433 1114.1h2V1157h-2zM456 1072.0h2V1157h-2zM461 1080.2h2V1157h-2zM470 1118.1h2V1157h-2zM475 1103.0h2V1157h-2zM484 1067.2h2V1157h-2zM498 1116.1h2V1157h-2zM508 1132.2h2V1157h-2zM512 1124.1h2V1157h-2zM517 1119.2h2V1157h-2zM522 1119.2h2V1157h-2zM531 1134.2h2V1157h-2zM536 1117.1h2V1157h-2zM545 1134.2h2V1157h-2zM582 1106.2h2V1157h-2zM592 1126.2h2V1157h-2zM596 1132.3h2V1157h-2zM601 1128.2h2V1157h-2zM610 1144.1h2V1157h-2zM615 1131.2h2V1157h-2zM620 1105.2h2V1157h-2zM634 1141.2h2V1157h-2zM648 1138.2h2V1157h-2zM652 1120.2h2V1157h-2zM657 1134.2h2V1157h-2zM666 1140.1h2V1157h-2zM671 1141.2h2V1157h-2zM680 1141.2h2V1157h-2zM685 1120.2h2V1157h-2zM690 1127.2h2V1157h-2zM718 1131.2h2V1157h-2zM722 1141.2h2V1157h-2zM727 1124.2h2V1157h-2zM736 1146.2h2V1157h-2zM741 1136.2h2V1157h-2zM746 1140.1h2V1157h-2zM760 1142.2h2V1157h-2zM764 1147.2h2V1157h-2zM769 1150.3h2V1157h-2zM774 1140.1h2V1157h-2zM778 1144.3h2V1157h-2zM783 1145.1h2V1157h-2zM792 1143.2h2V1157h-2zM797 1146.1h2V1157h-2zM806 1133.2h2V1157h-2zM811 1077.2h2V1157h-2zM816 1108.2h2V1157h-2zM820 1100.2h2V1157h-2zM834 1141.2h2V1157h-2zM853 1140.1h2V1157h-2zM858 1140.1h2V1157h-2zM862 1148.2h2V1157h-2zM867 1138.3h2V1157h-2zM876 1144.3h2V1157h-2zM886 1140.1h2V1157h-2zM890 1131.2h2V1157h-2zM899 1144.3h2V1157h-2zM909 1139.1h2V1157h-2zM913 1139.1h2V1157h-2zM923 1142.2h2V1157h-2zM937 1143.2h2V1157h-2zM941 1144.3h2V1157h-2zM946 1117.1h2V1157h-2zM951 1140.1h2V1157h-2zM969 1122.2h2V1157h-2zM979 1136.2h2V1157h-2zM983 1139.1h2V1157h-2zM997 1147.2h2V1157h-2zM1007 1141.2h2V1157h-2zM1016 1144.3h2V1157h-2zM1021 1130.2h2V1157h-2zM1035 1142.2h2V1157h-2zM1044 1147.2h2V1157h-2zM1049 1145.1h2V1157h-2zM1053 1134.2h2V1157h-2zM1067 1136.2h2V1157h-2zM1072 1141.2h2V1157h-2zM1077 1145.1h2V1157h-2zM1081 1121.3h2V1157h-2zM1086 1087.1h2V1157h-2zM1095 1134.2h2V1157h-2zM1114 1138.2h2V1157h-2zM1123 1144.1h2V1157h-2zM1128 1138.2h2V1157h-2zM1133 1142.2h2V1157h-2zM1137 1143.3h2V1157h-2zM1142 1122.1h2V1157h-2zM1156 1146.2h2V1157h-2zM1165 1135.3h2V1157h-2zM1170 1141.2h2V1157h-2zM1175 1144.1h2V1157h-2zM1179 1139.2h2V1157h-2zM1189 1147.2h2V1157h-2zM1198 1129.3h2V1157h-2zM1203 1127.2h2V1157h-2zM1212 1135.3h2V1157h-2zM1221 1149.3h2V1157h-2zM1231 1125.2h2V1157h-2zM1235 1140.1h2V1157h-2zM1240 1149.3h2V1157h-2zM1263 1141.2h2V1157h-2zM1268 1142.2h2V1157h-2zM1277 1140.1h2V1157h-2zM1305 1107.3h2V1157h-2zM1310 1137.1h2V1157h-2zM1319 1141.2h2V1157h-2zM1329 1142.2h2V1157h-2zM1338 1125.2h2V1157h-2zM1343 1137.1h2V1157h-2zM1357 1125.2h2V1157h-2zM1361 1145.1h2V1157h-2zM1371 1145.1h2V1157h-2zM1375 1131.2h2V1157h-2zM1385 1148.2h2V1157h-2zM1403 1131.2h2V1157h-2zM1413 1136.2h2V1157h-2zM1422 1141.2h2V1157h-2zM1427 1132.3h2V1157h-2zM1431 1139.2h2V1157h-2zM1459 1129.3h2V1157h-2zM1473 1121.3h2V1157h-2zM1483 1131.2h2V1157h-2zM1492 1135.3h2V1157h-2zM1501 1122.1h2V1157h-2zM1515 1149.3h2V1157h-2zM1524 1133.2h2V1157h-2zM1529 1138.7h2V1157h-2zM1534 1112.1h2V1157h-2zM1543 1128.2h2V1157h-2zM1548 1146.2h2V1157h-2zM1552 1141.2h2V1157h-2zM1562 1137.1h2V1157h-2zM1580 1143.3h2V1157h-2zM1585 1122.1h2V1157h-2zM1590 1104.2h2V1157h-2zM1594 1121.3h2V1157h-2zM1604 923.6h2V1157h-2zM1613 1089.1h2V1157h-2zM1622 993.0h2V1157h-2zM1646 1108.3h2V1157h-2zM1650 1099.2h2V1157h-2zM1664 1092.2h2V1157h-2zM1674 1114.2h2V1157h-2zM1678 1115.3h2V1157h-2zM1683 1123.1h2V1157h-2zM1706 1126.2h2V1157h-2zM1716 1138.2h2V1157h-2zM1725 1110.2h2V1157h-2zM1734 1131.2h2V1157h-2zM1739 1116.1h2V1157h-2zM1753 1111.2h2V1157h-2zM1762 1126.2h2V1157h-2zM1772 1128.2h2V1157h-2zM1781 1138.2h2V1157h-2zM1786 1119.2h2V1157h-2zM1823 1134.2h2V1157h-2zM1832 1065.3h2V1157h-2zM1846 1121.3h2V1157h-2zM1851 1119.2h2V1157h-2zM1870 1102.2h2V1157h-2zM1874 1119.2h2V1157h-2zM1879 1052.1h2V1157h-2zM1884 1075.1h2V1157h-2zM1902 1105.2h2V1157h-2zM1926 1122.1h2V1157h-2zM1930 1099.2h2V1157h-2zM1944 1130.2h2V1157h-2zM1954 1133.2h2V1157h-2zM1968 1135.3h2V1157h-2zM1977 1140.1h2V1157h-2zM1986 1088.2h2V1157h-2zM2000 1131.2h2V1157h-2zM2019 1135.3h2V1157h-2zM2028 1101.1h2V1157h-2zM2042 1146.2h2V1157h-2zM2056 1138.2h2V1157h-2zM2061 1143.2h2V1157h-2zM2066 1140.2h2V1157h-2zM2075 1150.2h2V1157h-2zM2084 1140.2h2V1157h-2zM2089 1129.2h2V1157h-2zM2093 1128.2h2V1157h-2zM2098 1134.3h2V1157h-2zM2103 1139.3h2V1157h-2zM2117 1142.2h2V1157h-2zM2126 1134.3h2V1157h-2zM2131 1140.2h2V1157h-2zM2140 1147.2h2V1157h-2zM2149 1143.2h2V1157h-2zM2159 1139.3h2V1157h-2zM2168 1149.2h2V1157h-2zM2177 1138.2h2V1157h-2zM2187 1141.2h2V1157h-2zM2191 1138.2h2V1157h-2zM2210 1144.2h2V1157h-2zM2229 1136.2h2V1157h-2zM2247 1103.1h2V1157h-2zM2271 1099.1h2V1157h-2zM2280 1131.2h2V1157h-2zM2294 1108.1h2V1157h-2zM2303 1141.2h2V1157h-2zM2313 1114.1h2V1157h-2zM2327 1150.2h2V1157h-2z" fill="rgb(239,83,80)" fill-opacity="0.5"/>
<rect x="458" y="362.8" width="2100" height="4.1" fill="#000"/>
<line x1="14" y1="384" x2="2557" y2="384" stroke="#d9503c" stroke-width="2" stroke-dasharray="4 2"/>
<polyline points="14.8,1189.1 18.8,1182.6 23.8,1178.9 28.8,1205.4 32.8,1197.7 37.8,1256.8 42.8,1253.5 46.8,1256.0 51.8,1246.7 56.8,1273.6 60.8,1255.9 65.8,1253.5 70.8,1248.8 74.8,1248.1 79.8,1245.4 84.8,1251.1 88.8,1241.3 93.8,1228.2 98.8,1250.3 102.8,1305.8 107.8,1301.9 112.8,1300.6 116.8,1304.6 121.8,1306.4 126.8,1286.2 130.8,1280.4 135.8,1271.2 140.8,1242.6 144.8,1233.2 149.8,1246.5 154.8,1252.5 158.8,1246.3 163.8,1229.0 168.8,1215.0 172.8,1204.9 177.8,1177.0 182.8,1212.0 186.8,1190.0 191.8,1186.8 196.8,1182.9 200.8,1216.8 205.8,1260.8 210.8,1269.2 214.8,1236.7 219.8,1251.1 224.8,1254.7 228.8,1276.5 233.8,1266.5 238.8,1262.1 242.8,1259.6 247.8,1237.3 252.8,1236.2 256.8,1241.0 261.8,1245.9 266.8,1275.5 270.8,1263.5 275.8,1263.5 280.8,1256.2 284.8,1302.0 289.8,1326.4 294.8,1319.3 298.8,1318.8 303.8,1307.5 308.8,1311.9 312.8,1330.8 317.8,1307.9 322.8,1313.8 326.8,1299.5 331.8,1295.8 336.8,1273.1 340.8,1266.1 345.8,1261.2 350.8,1247.6 354.8,1267.3 359.8,1258.7 364.8,1249.3 368.8,1227.0 373.8,1216.5 378.8,1212.7 382.8,1208.2 387.8,1195.5 392.8,1180.6 396.8,1270.7 401.8,1247.4 406.8,1265.9 410.8,1300.4 415.8,1305.9 420.8,1299.2 424.8,1274.6 429.8,1299.4 434.8,1303.1 438.8,1297.4 443.8,1291.7 448.8,1273.9 452.8,1268.8 457.8,1284.9 462.8,1308.0 466.8,1296.6 471.8,1310.0 476.8,1339.8 480.8,1322.1 485.8,1352.5 490.8,1345.0 494.8,1322.4 499.8,1325.0 504.8,1319.2 508.8,1323.7 513.8,1330.3 518.8,1342.2 522.8,1344.2 527.8,1340.1 532.8,1341.4 536.8,1351.6 541.8,1349.6 546.8,1350.7 550.8,1346.1 555.8,1324.6 560.8,1313.6 564.8,1308.6 569.8,1298.1 574.8,1292.2 578.8,1265.7 583.8,1283.6 588.8,1268.4 592.8,1269.1 597.8,1275.1 601.8,1302.9 606.8,1293.1 611.8,1300.7 615.8,1323.6 620.8,1352.1 625.8,1340.4 629.8,1338.2 634.8,1343.5 639.8,1338.2 643.8,1312.0 648.8,1319.2 653.8,1343.9 657.8,1344.3 662.8,1329.8 667.8,1340.8 671.8,1341.0 676.8,1329.3 681.8,1338.0 685.8,1356.7 690.8,1365.0 695.8,1359.8 699.8,1357.7 704.8,1347.5 709.8,1314.1 713.8,1302.8 718.8,1305.3 723.8,1306.4 727.8,1321.6 732.8,1311.4 737.8,1317.1 741.8,1322.9 746.8,1335.6 751.8,1330.6 755.8,1313.5 760.8,1317.7 765.8,1318.3 769.8,1322.1 774.8,1325.8 779.8,1332.4 783.8,1334.0 788.8,1321.7 793.8,1332.8 797.8,1348.5 802.8,1341.9 807.8,1368.1 811.8,1418.7 816.8,1421.5 821.8,1431.8 825.8,1418.4 830.8,1416.1 835.8,1421.4 839.8,1395.7 844.8,1394.6 849.8,1388.6 853.8,1395.5 858.8,1399.3 863.8,1399.8 867.8,1412.9 872.8,1374.1 877.8,1376.5 881.8,1338.6 886.8,1339.6 891.8,1359.6 895.8,1355.3 900.8,1357.3 905.8,1349.9 909.8,1363.4 914.8,1374.4 919.8,1363.7 923.8,1372.7 928.8,1370.2 933.8,1340.4 937.8,1343.1 942.8,1358.2 947.8,1390.2 951.8,1392.8 956.8,1299.5 961.8,1273.7 965.8,1263.4 970.8,1284.7 975.8,1275.8 979.8,1292.8 984.8,1293.1 989.8,1288.2 993.8,1285.3 998.8,1293.2 1003.8,1281.9 1007.8,1289.6 1012.8,1288.3 1017.8,1300.0 1021.8,1330.7 1026.8,1327.3 1031.8,1311.0 1035.8,1333.0 1040.8,1326.5 1045.8,1330.0 1049.8,1338.4 1054.8,1349.6 1059.8,1347.6 1063.8,1345.2 1068.8,1367.2 1073.8,1370.6 1077.8,1372.8 1082.8,1397.8 1087.8,1411.5 1091.8,1405.4 1096.8,1421.4 1101.8,1398.0 1105.8,1394.5 1110.8,1360.9 1115.8,1366.7 1119.8,1339.6 1124.8,1351.9 1129.8,1360.1 1133.8,1365.3 1138.8,1365.5 1143.8,1371.7 1147.8,1352.3 1152.8,1339.3 1157.8,1342.8 1161.8,1340.9 1166.8,1355.1 1171.8,1362.8 1175.8,1364.5 1180.8,1365.2 1185.8,1356.9 1189.8,1372.7 1194.8,1365.8 1198.8,1383.4 1203.8,1399.2 1208.8,1329.2 1212.8,1339.0 1217.8,1335.5 1222.8,1339.7 1226.8,1307.8 1231.8,1325.0 1236.8,1328.4 1240.8,1334.1 1245.8,1333.2 1250.8,1328.0 1254.8,1321.8 1259.8,1314.4 1264.8,1332.5 1268.8,1336.6 1273.8,1334.9 1278.8,1357.5 1282.8,1314.8 1287.8,1313.9 1292.8,1312.7 1296.8,1277.3 1301.8,1253.1 1306.8,1267.3 1310.8,1289.7 1315.8,1266.1 1320.8,1284.3 1324.8,1274.2 1329.8,1281.4 1334.8,1245.8 1338.8,1247.8 1343.8,1256.3 1348.8,1247.4 1352.8,1247.1 1357.8,1269.2 1362.8,1276.1 1366.8,1270.5 1371.8,1277.2 1376.8,1304.7 1380.8,1301.1 1385.8,1311.0 1390.8,1290.0 1394.8,1270.5 1399.8,1245.6 1404.8,1256.8 1408.8,1246.6 1413.8,1262.3 1418.8,1260.4 1422.8,1266.0 1427.8,1270.9 1432.8,1283.6 1436.8,1256.4 1441.8,1248.6 1446.8,1246.2 1450.8,1241.1 1455.8,1229.9 1460.8,1265.1 1464.8,1245.0 1469.8,1241.4 1474.8,1254.4 1478.8,1247.6 1483.8,1289.9 1488.8,1289.4 1492.8,1307.5 1497.8,1277.9 1502.8,1319.2 1506.8,1318.7 1511.8,1312.7 1516.8,1315.6 1520.8,1296.7 1525.8,1318.7 1530.8,1339.3 1534.8,1365.4 1539.8,1362.1 1544.8,1367.7 1548.8,1375.9 1553.8,1376.3 1558.8,1343.8 1562.8,1353.0 1567.8,1351.5 1572.8,1329.3 1576.8,1323.0 1581.8,1339.6 1586.8,1381.1 1590.8,1384.9 1595.8,1386.5 1600.8,1382.8 1604.8,1449.0 1609.8,1409.4 1614.8,1416.9 1618.8,1408.2 1623.8,1413.6 1628.8,1398.8 1632.8,1394.9 1637.8,1359.9 1642.8,1359.2 1646.8,1359.7 1651.8,1370.7 1656.8,1340.8 1660.8,1330.0 1665.8,1333.0 1670.8,1329.9 1674.8,1344.5 1679.8,1349.0 1684.8,1361.9 1688.8,1336.3 1693.8,1335.4 1698.8,1324.5 1702.8,1317.8 1707.8,1321.2 1712.8,1314.5 1716.8,1320.1 1721.8,1292.8 1726.8,1301.4 1730.8,1293.6 1735.8,1298.3 1740.8,1322.1 1744.8,1321.1 1749.8,1320.0 1754.8,1323.1 1758.8,1321.9 1763.8,1338.7 1768.8,1306.9 1772.8,1311.8 1777.8,1298.4 1781.8,1308.0 1786.8,1327.0 1791.8,1326.0 1795.8,1306.6 1800.8,1287.0 1805.8,1286.0 1809.8,1283.9 1814.8,1274.8 1819.8,1270.1 1823.8,1274.4 1828.8,1229.5 1833.8,1244.6 1837.8,1237.0 1842.8,1232.1 1847.8,1239.1 1851.8,1242.1 1856.8,1236.1 1861.8,1230.9 1865.8,1205.8 1870.8,1224.2 1875.8,1247.9 1879.8,1301.6 1884.8,1310.1 1889.8,1298.4 1893.8,1277.3 1898.8,1261.0 1903.8,1289.0 1907.8,1285.8 1912.8,1275.3 1917.8,1273.0 1921.8,1271.1 1926.8,1289.0 1931.8,1314.2 1935.8,1308.9 1940.8,1308.4 1945.8,1333.9 1949.8,1323.1 1954.8,1326.7 1959.8,1306.6 1963.8,1288.9 1968.8,1299.2 1973.8,1285.7 1977.8,1301.7 1982.8,1270.1 1987.8,1306.7 1991.8,1300.8 1996.8,1296.2 2001.8,1305.7 2005.8,1302.6 2010.8,1298.9 2015.8,1297.1 2019.8,1297.7 2024.8,1291.2 2029.8,1331.2 2033.8,1319.2 2038.8,1318.3 2043.8,1327.9 2047.8,1320.8 2052.8,1314.6 2057.8,1320.4 2061.8,1326.0 2066.8,1331.5 2071.8,1326.0 2075.8,1332.8 2080.8,1300.5 2085.8,1306.6 2089.8,1332.8 2094.8,1334.9 2099.8,1341.7 2103.8,1352.0 2108.8,1341.5 2113.8,1334.6 2117.8,1339.8 2122.8,1328.9 2127.8,1342.3 2131.8,1343.7 2136.8,1334.6 2141.8,1342.1 2145.8,1312.9 2150.8,1322.8 2155.8,1304.5 2159.8,1324.9 2164.8,1318.6 2169.8,1325.1 2173.8,1318.3 2178.8,1325.2 2183.8,1322.9 2187.8,1330.6 2192.8,1337.5 2197.8,1332.5 2201.8,1330.4 2206.8,1324.1 2211.8,1333.2 2215.8,1300.4 2220.8,1284.4 2225.8,1276.1 2229.8,1287.5 2234.8,1268.6 2239.8,1249.3 2243.8,1199.7 2248.8,1214.6 2253.8,1208.9 2257.8,1208.5 2262.8,1201.4 2267.8,1189.7 2271.8,1262.8 2276.8,1255.5 2281.8,1259.7 2285.8,1238.0 2290.8,1238.0 2295.8,1252.2 2299.8,1246.4 2304.8,1252.7 2309.8,1243.3 2313.8,1287.0 2318.8,1277.6 2323.8,1267.1 2327.8,1273.8" fill="none" stroke="#880e9f" stroke-width="1.9" stroke-linejoin="miter" stroke-miterlimit="6"/>
<rect x="14" y="1158" width="2668" height="2" fill="#434547"/>
<rect x="14" y="1468" width="2668" height="2" fill="#434547"/>
<rect x="2558" y="88" width="2" height="1434" fill="#434547"/>
<rect x="2560" y="90" width="8" height="2" fill="#434547"/>
<rect x="2560" y="158" width="8" height="2" fill="#434547"/>
<rect x="2560" y="234" width="8" height="2" fill="#434547"/>
<rect x="2560" y="321" width="8" height="2" fill="#434547"/>
<rect x="2560" y="422" width="8" height="2" fill="#434547"/>
<rect x="2560" y="480" width="8" height="2" fill="#434547"/>
<rect x="2560" y="557" width="8" height="2" fill="#434547"/>
<rect x="2560" y="615" width="8" height="2" fill="#434547"/>
<rect x="2560" y="675" width="8" height="2" fill="#434547"/>
<rect x="2560" y="741" width="8" height="2" fill="#434547"/>
<rect x="2560" y="800" width="8" height="2" fill="#434547"/>
<rect x="2560" y="865" width="8" height="2" fill="#434547"/>
<rect x="2560" y="938" width="8" height="2" fill="#434547"/>
<rect x="2560" y="1006" width="8" height="2" fill="#434547"/>
<rect x="2560" y="1067" width="8" height="2" fill="#434547"/>
<rect x="2560" y="1127" width="8" height="2" fill="#434547"/>
<rect x="2560" y="1207" width="8" height="2" fill="#434547"/>
<rect x="2560" y="1282" width="8" height="2" fill="#434547"/>
<rect x="2560" y="1358" width="8" height="2" fill="#434547"/>
<rect x="2560" y="1433" width="8" height="2" fill="#434547"/>
<rect x="129" y="1470" width="2" height="6" fill="#434547"/>
<rect x="414" y="1470" width="2" height="6" fill="#434547"/>
<rect x="703" y="1470" width="2" height="6" fill="#434547"/>
<rect x="988" y="1470" width="2" height="6" fill="#434547"/>
<rect x="1272" y="1470" width="2" height="6" fill="#434547"/>
<rect x="1552" y="1470" width="2" height="6" fill="#434547"/>
<rect x="1836" y="1470" width="2" height="6" fill="#434547"/>
<rect x="2121" y="1470" width="2" height="6" fill="#434547"/>
<rect x="2410" y="1470" width="2" height="6" fill="#434547"/>
<clipPath id="axclip"><rect x="2560" y="88" width="122" height="1380"/></clipPath>
<g style="font-family:'Liberation Sans',sans-serif;will-change:transform">
<g clip-path="url(#axclip)">
<text x="2575.83" y="98.7" font-size="21.9px" stroke="#4c4e51" stroke-width="0.45" fill="#4c4e51" textLength="88.54" lengthAdjust="spacingAndGlyphs">19000.00</text>
<text x="2575.83" y="166.7" font-size="21.9px" stroke="#4c4e51" stroke-width="0.45" fill="#4c4e51" textLength="88.54" lengthAdjust="spacingAndGlyphs">17000.00</text>
<text x="2575.83" y="242.7" font-size="21.9px" stroke="#4c4e51" stroke-width="0.45" fill="#4c4e51" textLength="88.54" lengthAdjust="spacingAndGlyphs">15000.00</text>
<text x="2575.83" y="329.7" font-size="21.9px" stroke="#4c4e51" stroke-width="0.45" fill="#4c4e51" textLength="88.54" lengthAdjust="spacingAndGlyphs">13000.00</text>
<text x="2575.81" y="430.7" font-size="21.9px" stroke="#4c4e51" stroke-width="0.45" fill="#4c4e51" textLength="88.56" lengthAdjust="spacingAndGlyphs">11000.00</text>
<text x="2575.83" y="488.7" font-size="21.9px" stroke="#4c4e51" stroke-width="0.45" fill="#4c4e51" textLength="88.54" lengthAdjust="spacingAndGlyphs">10000.00</text>
<text x="2576.80" y="565.7" font-size="21.9px" stroke="#4c4e51" stroke-width="0.45" fill="#4c4e51" textLength="74.97" lengthAdjust="spacingAndGlyphs">8800.00</text>
<text x="2576.80" y="623.7" font-size="21.9px" stroke="#4c4e51" stroke-width="0.45" fill="#4c4e51" textLength="74.97" lengthAdjust="spacingAndGlyphs">8000.00</text>
<text x="2575.84" y="683.7" font-size="21.9px" stroke="#4c4e51" stroke-width="0.45" fill="#4c4e51" textLength="75.93" lengthAdjust="spacingAndGlyphs">7250.00</text>
<text x="2575.84" y="749.7" font-size="21.9px" stroke="#4c4e51" stroke-width="0.45" fill="#4c4e51" textLength="75.93" lengthAdjust="spacingAndGlyphs">6500.00</text>
<text x="2576.80" y="808.7" font-size="21.9px" stroke="#4c4e51" stroke-width="0.45" fill="#4c4e51" textLength="74.97" lengthAdjust="spacingAndGlyphs">5900.00</text>
<text x="2576.80" y="873.7" font-size="21.9px" stroke="#4c4e51" stroke-width="0.45" fill="#4c4e51" textLength="74.97" lengthAdjust="spacingAndGlyphs">5300.00</text>
<text x="2576.80" y="946.7" font-size="21.9px" stroke="#4c4e51" stroke-width="0.45" fill="#4c4e51" textLength="74.97" lengthAdjust="spacingAndGlyphs">4700.00</text>
<text x="2576.80" y="1014.7" font-size="21.9px" stroke="#4c4e51" stroke-width="0.45" fill="#4c4e51" textLength="74.97" lengthAdjust="spacingAndGlyphs">4200.00</text>
<text x="2576.80" y="1075.7" font-size="21.9px" stroke="#4c4e51" stroke-width="0.45" fill="#4c4e51" textLength="74.97" lengthAdjust="spacingAndGlyphs">3800.00</text>
<text x="2576.80" y="1135.7" font-size="21.9px" stroke="#4c4e51" stroke-width="0.45" fill="#4c4e51" textLength="74.97" lengthAdjust="spacingAndGlyphs">3440.00</text>
<text x="2576.80" y="1215.7" font-size="21.9px" stroke="#4c4e51" stroke-width="0.45" fill="#4c4e51" textLength="52.77" lengthAdjust="spacingAndGlyphs">80.00</text>
<text x="2575.82" y="1290.7" font-size="21.9px" stroke="#4c4e51" stroke-width="0.45" fill="#4c4e51" textLength="53.75" lengthAdjust="spacingAndGlyphs">60.00</text>
<text x="2576.80" y="1366.7" font-size="21.9px" stroke="#4c4e51" stroke-width="0.45" fill="#4c4e51" textLength="52.77" lengthAdjust="spacingAndGlyphs">40.00</text>
<text x="2575.82" y="1441.7" font-size="21.9px" stroke="#4c4e51" stroke-width="0.45" fill="#4c4e51" textLength="53.75" lengthAdjust="spacingAndGlyphs">20.00</text>
</g>
<rect x="2558" y="348" width="124" height="34" fill="#000"/>
<rect x="2558" y="382" width="124" height="34" fill="#d95344"/>
<rect x="2572" y="418" width="110" height="34" fill="#d95344"/>
<rect x="2558" y="364" width="8" height="2" fill="#fff"/>
<rect x="2558" y="398" width="8" height="2" fill="#fff"/>
<text x="13.37" y="33.0" font-size="24.4px" font-weight="bold" fill="#131722" textLength="135.40" lengthAdjust="spacingAndGlyphs">whoisyashu</text>
<text x="155.74" y="33.0" font-size="24.4px" fill="#131722" textLength="111.13" lengthAdjust="spacingAndGlyphs">published</text>
<text x="272.93" y="33.0" font-size="24.4px" fill="#131722" textLength="29.16" lengthAdjust="spacingAndGlyphs">on</text>
<text x="309.20" y="33.0" font-size="24.4px" fill="#131722" textLength="204.89" lengthAdjust="spacingAndGlyphs">TradingView.com,</text>
<text x="521.60" y="33.0" font-size="24.4px" fill="#131722" textLength="75.88" lengthAdjust="spacingAndGlyphs">August</text>
<text x="605.38" y="33.0" font-size="24.4px" fill="#131722" textLength="34.42" lengthAdjust="spacingAndGlyphs">14,</text>
<text x="645.57" y="33.0" font-size="24.4px" fill="#131722" textLength="56.12" lengthAdjust="spacingAndGlyphs">2020</text>
<text x="708.30" y="33.0" font-size="24.4px" fill="#131722" textLength="99.09" lengthAdjust="spacingAndGlyphs">05:37:03</text>
<text x="813.59" y="33.0" font-size="24.4px" fill="#131722" textLength="54.91" lengthAdjust="spacingAndGlyphs">GMT</text>
<text x="11.66" y="67.0" font-size="24.4px" font-weight="bold" fill="#131722" textLength="265.31" lengthAdjust="spacingAndGlyphs">COINBASE:BTCUSD, 1D</text>
<text x="288.55" y="67.0" font-size="24.4px" fill="#131722" textLength="104.54" lengthAdjust="spacingAndGlyphs">11718.24</text>
<text x="427.41" y="67.0" font-size="24.4px" fill="#131722" textLength="74.55" lengthAdjust="spacingAndGlyphs">−77.71</text>
<text x="510.30" y="67.0" font-size="24.4px" fill="#131722" textLength="99.21" lengthAdjust="spacingAndGlyphs">(−0.66%)</text>
<text x="617.72" y="67.0" font-size="24.4px" font-weight="bold" fill="#131722" textLength="26.67" lengthAdjust="spacingAndGlyphs">O:</text>
<text x="646.36" y="67.0" font-size="24.4px" fill="#ef5350" textLength="104.23" lengthAdjust="spacingAndGlyphs">11795.95</text>
<text x="759.61" y="67.0" font-size="24.4px" font-weight="bold" fill="#131722" textLength="25.49" lengthAdjust="spacingAndGlyphs">H:</text>
<text x="786.85" y="67.0" font-size="24.4px" fill="#ef5350" textLength="104.44" lengthAdjust="spacingAndGlyphs">11847.88</text>
<text x="900.44" y="67.0" font-size="24.4px" font-weight="bold" fill="#131722" textLength="19.90" lengthAdjust="spacingAndGlyphs">L:</text>
<text x="922.66" y="67.0" font-size="24.4px" fill="#ef5350" textLength="103.62" lengthAdjust="spacingAndGlyphs">11685.00</text>
<text x="1034.81" y="67.0" font-size="24.4px" font-weight="bold" fill="#131722" textLength="22.88" lengthAdjust="spacingAndGlyphs">C:</text>
<text x="1059.96" y="67.0" font-size="24.4px" fill="#ef5350" textLength="104.13" lengthAdjust="spacingAndGlyphs">11718.24</text>
<text x="68.20" y="1567.8" font-size="25.6px" fill="#131722" textLength="140.78" lengthAdjust="spacingAndGlyphs">TradingView</text>
<text x="30.40" y="128.6" font-size="24px" font-weight="bold" fill="#4c4e51" textLength="81.16" lengthAdjust="spacingAndGlyphs">Bitcoin</text>
<text x="119.50" y="128.6" font-size="24px" font-weight="bold" fill="#4c4e51" textLength="8.57" lengthAdjust="spacingAndGlyphs">/</text>
<text x="136.25" y="128.6" font-size="24px" font-weight="bold" fill="#4c4e51" textLength="44.39" lengthAdjust="spacingAndGlyphs">U.S.</text>
<text x="187.76" y="128.6" font-size="24px" font-weight="bold" fill="#4c4e51" textLength="76.54" lengthAdjust="spacingAndGlyphs">Dollar,</text>
<text x="271.72" y="128.6" font-size="24px" font-weight="bold" fill="#4c4e51" textLength="36.74" lengthAdjust="spacingAndGlyphs">1D,</text>
<text x="316.90" y="128.6" font-size="24px" font-weight="bold" fill="#4c4e51" textLength="116.91" lengthAdjust="spacingAndGlyphs">COINBASE</text>
<text x="30.38" y="162.3" font-size="24px" fill="#4c4e51" textLength="52.82" lengthAdjust="spacingAndGlyphs">EMA</text>
<text x="90.58" y="162.3" font-size="24px" fill="#4c4e51" textLength="42.01" lengthAdjust="spacingAndGlyphs">(20,</text>
<text x="138.87" y="162.3" font-size="24px" fill="#4c4e51" textLength="64.44" lengthAdjust="spacingAndGlyphs">close,</text>
<text x="210.40" y="162.3" font-size="24px" fill="#4c4e51" textLength="22.13" lengthAdjust="spacingAndGlyphs">0)</text>
<text x="31.40" y="196.5" font-size="24px" fill="#4c4e51" textLength="36.56" lengthAdjust="spacingAndGlyphs">Vol</text>
<text x="29.55" y="1200.8" font-size="24.6px" fill="#4c4e51" textLength="35.96" lengthAdjust="spacingAndGlyphs">RSI</text>
<text x="71.19" y="1200.8" font-size="24.6px" fill="#4c4e51" textLength="42.87" lengthAdjust="spacingAndGlyphs">(14,</text>
<text x="119.99" y="1200.8" font-size="24.6px" fill="#4c4e51" textLength="66.52" lengthAdjust="spacingAndGlyphs">close)</text>
<text x="110.10" y="1506" font-size="21.4px" stroke="#4c4e51" stroke-width="0.4" fill="#4c4e51" textLength="38.56" lengthAdjust="spacingAndGlyphs">May</text>
<text x="401.40" y="1506" font-size="21.4px" stroke="#4c4e51" stroke-width="0.4" fill="#4c4e51" textLength="27.97" lengthAdjust="spacingAndGlyphs">Jul</text>
<text x="687.35" y="1506" font-size="21.4px" stroke="#4c4e51" stroke-width="0.4" fill="#4c4e51" textLength="34.10" lengthAdjust="spacingAndGlyphs">Sep</text>
<text x="969.88" y="1506" font-size="21.4px" stroke="#4c4e51" stroke-width="0.4" fill="#4c4e51" textLength="36.98" lengthAdjust="spacingAndGlyphs">Nov</text>
<text x="1248.60" y="1506" font-size="21.4px" font-weight="bold" stroke="#4c4e51" stroke-width="0.4" fill="#4c4e51" textLength="48.69" lengthAdjust="spacingAndGlyphs">2020</text>
<text x="1534.36" y="1506" font-size="21.4px" stroke="#4c4e51" stroke-width="0.4" fill="#4c4e51" textLength="36.41" lengthAdjust="spacingAndGlyphs">Mar</text>
<text x="1817.10" y="1506" font-size="21.4px" stroke="#4c4e51" stroke-width="0.4" fill="#4c4e51" textLength="38.56" lengthAdjust="spacingAndGlyphs">May</text>
<text x="2108.40" y="1506" font-size="21.4px" stroke="#4c4e51" stroke-width="0.4" fill="#4c4e51" textLength="27.97" lengthAdjust="spacingAndGlyphs">Jul</text>
<text x="2394.35" y="1506" font-size="21.4px" stroke="#4c4e51" stroke-width="0.4" fill="#4c4e51" textLength="34.10" lengthAdjust="spacingAndGlyphs">Sep</text>
<text x="2576.95" y="371.8" font-size="21.9px" stroke="#fff" stroke-width="0.45" fill="#fff" textLength="86.92" lengthAdjust="spacingAndGlyphs">12097.96</text>
<text x="2577.03" y="405.9" font-size="21.9px" stroke="#fff" stroke-width="0.45" fill="#fff" textLength="86.84" lengthAdjust="spacingAndGlyphs">11718.24</text>
<text x="2581.14" y="441.9" font-size="22.4px" stroke="#fff" stroke-width="0.45" fill="#fff" textLength="83.29" lengthAdjust="spacingAndGlyphs">18:22:59</text>
</g>
<path d="M398.5 49.6H419.3L408.9 68.2z" fill="#ef5350"/>
<rect x="13" y="87" width="2670" height="1436" fill="none" stroke="#434547" stroke-width="2"/>
<g fill="#2196f3"><circle cx="34" cy="1556.8" r="12"/><circle cx="20.6" cy="1565.9" r="8.9"/><circle cx="50.7" cy="1559.7" r="7.2"/><circle cx="56.5" cy="1567.1" r="7.7"/><rect x="20.6" y="1560" width="36" height="14.8"/></g>
<polyline points="13.4,1570.7 31.6,1556.8 44,1567.8 57.6,1555.2" fill="none" stroke="#fff" stroke-width="2.2"/>
<circle cx="31.6" cy="1556.8" r="3.7" fill="#fff"/><circle cx="44" cy="1567.8" r="3.8" fill="#fff"/>
</svg>
</body></html>
